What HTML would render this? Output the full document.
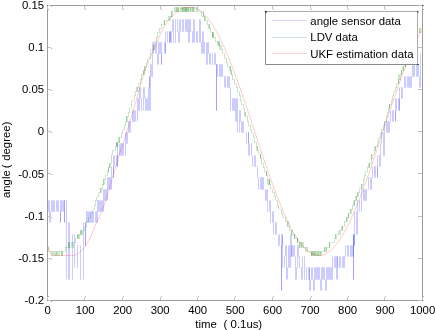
<!DOCTYPE html>
<html><head><meta charset="utf-8"><style>
html,body{margin:0;padding:0;background:#fff;width:435px;height:330px;overflow:hidden}
svg{position:absolute;left:0;top:0;will-change:transform}
text{font-family:"Liberation Sans",sans-serif;font-size:11.4px;fill:#000}
</style></head><body>
<svg width="435" height="330" viewBox="0 0 435 330">
<rect x="0" y="0" width="435" height="330" fill="#fff"/>
<g><path d="M47.0 211.5H49.0M49.0 200.5H50.0M49.0 222.5H50.0M50.0 211.5H52.0M51.0 200.5H53.0M52.0 211.5H54.0M53.0 200.5H55.0M55.0 211.5H56.0M56.0 200.5H58.0M57.0 211.5H59.0M58.0 200.5H61.0M60.0 222.5H61.0M60.0 211.5H62.0M61.0 200.5H63.0M63.0 211.5H64.0M64.0 200.5H65.0M64.0 222.5H65.0M64.0 200.5H67.0M67.0 279.5H68.0M68.0 222.5H70.0M70.0 279.5H73.0M72.0 234.5H75.0M75.0 267.5H78.0M77.0 245.5H81.0M80.0 279.5H83.0M83.0 222.5H86.0M85.0 245.5H86.0M85.0 222.5H86.0M86.0 211.5H88.0M87.0 222.5H89.0M88.0 211.5H90.0M89.0 222.5H91.0M90.0 211.5H92.0M91.0 222.5H93.0M93.0 211.5H94.0M94.0 222.5H95.0M95.0 211.5H97.0M96.0 222.5H98.0M97.0 200.5H99.0M98.0 211.5H100.0M99.0 200.5H101.0M100.0 211.5H102.0M102.0 200.5H103.0M103.0 211.5H104.0M103.0 189.5H105.0M104.0 200.5H106.0M105.0 189.5H107.0M106.0 200.5H107.0M107.0 177.5H109.0M108.0 189.5H110.0M109.0 177.5H111.0M110.0 189.5H112.0M112.0 166.5H113.0M113.0 177.5H114.0M114.0 155.5H115.0M115.0 166.5H116.0M116.0 155.5H118.0M117.0 166.5H118.0M118.0 143.5H119.0M119.0 155.5H121.0M120.0 143.5H122.0M121.0 155.5H123.0M122.0 143.5H124.0M123.0 155.5H125.0M125.0 132.5H127.0M126.0 143.5H128.0M127.0 132.5H129.0M128.0 121.5H130.0M129.0 132.5H131.0M130.0 121.5H133.0M132.0 110.5H134.0M133.0 121.5H135.0M135.0 110.5H136.0M136.0 121.5H137.0M137.0 98.5H139.0M138.0 110.5H140.0M139.0 87.5H141.0M141.0 98.5H142.0M142.0 110.5H143.0M143.0 87.5H145.0M144.0 98.5H146.0M145.0 110.5H147.0M147.0 98.5H148.0M148.0 110.5H149.0M148.0 87.5H150.0M149.0 76.5H150.0M150.0 110.5H151.0M150.0 76.5H151.0M150.0 64.5H152.0M151.0 76.5H153.0M153.0 42.5H154.0M154.0 53.5H155.0M155.0 42.5H157.0M156.0 53.5H158.0M157.0 64.5H158.0M158.0 42.5H160.0M159.0 53.5H161.0M160.0 42.5H162.0M161.0 64.5H162.0M162.0 53.5H164.0M164.0 42.5H166.0M165.0 53.5H166.0M166.0 31.5H168.0M168.0 42.5H170.0M169.0 31.5H170.0M169.0 42.5H170.0M170.0 31.5H171.0M170.0 42.5H172.0M171.0 31.5H173.0M172.0 19.5H174.0M174.0 42.5H176.0M175.0 19.5H178.0M177.0 31.5H179.0M178.0 42.5H180.0M180.0 19.5H181.0M181.0 31.5H183.0M182.0 19.5H184.0M183.0 31.5H185.0M185.0 19.5H187.0M186.0 31.5H188.0M187.0 19.5H189.0M188.0 31.5H189.0M189.0 42.5H190.0M189.0 31.5H190.0M189.0 19.5H191.0M190.0 31.5H193.0M192.0 42.5H194.0M193.0 19.5H195.0M195.0 42.5H197.0M196.0 31.5H198.0M198.0 42.5H200.0M199.0 19.5H200.0M200.0 42.5H202.0M202.0 53.5H203.0M202.0 42.5H203.0M202.0 31.5H204.0M203.0 53.5H205.0M204.0 42.5H206.0M206.0 53.5H207.0M207.0 64.5H208.0M207.0 53.5H208.0M207.0 42.5H209.0M208.0 53.5H210.0M210.0 64.5H211.0M211.0 53.5H213.0M213.0 64.5H215.0M214.0 53.5H216.0M215.0 64.5H217.0M216.0 110.5H217.0M216.0 64.5H218.0M217.0 76.5H220.0M219.0 64.5H221.0M220.0 76.5H222.0M221.0 64.5H223.0M222.0 76.5H225.0M225.0 87.5H226.0M226.0 76.5H228.0M227.0 87.5H229.0M228.0 76.5H230.0M229.0 87.5H231.0M230.0 110.5H233.0M232.0 98.5H234.0M233.0 110.5H235.0M234.0 98.5H236.0M235.0 121.5H236.0M236.0 110.5H237.0M237.0 98.5H238.0M238.0 132.5H239.0M239.0 110.5H241.0M240.0 121.5H242.0M241.0 132.5H243.0M243.0 121.5H244.0M244.0 132.5H247.0M246.0 143.5H248.0M248.0 132.5H249.0M249.0 155.5H250.0M250.0 143.5H252.0M252.0 155.5H253.0M253.0 166.5H254.0M254.0 155.5H256.0M255.0 166.5H257.0M257.0 177.5H259.0M259.0 189.5H260.0M260.0 177.5H262.0M261.0 189.5H263.0M262.0 177.5H264.0M264.0 189.5H266.0M265.0 200.5H267.0M267.0 189.5H268.0M268.0 211.5H270.0M269.0 200.5H271.0M271.0 222.5H273.0M272.0 211.5H274.0M274.0 234.5H275.0M275.0 222.5H277.0M277.0 234.5H278.0M278.0 245.5H280.0M279.0 234.5H281.0M281.0 245.5H282.0M281.0 290.5H282.0M282.0 245.5H283.0M282.0 234.5H283.0M283.0 267.5H284.0M284.0 256.5H286.0M286.0 245.5H287.0M286.0 279.5H287.0M287.0 267.5H289.0M288.0 245.5H290.0M289.0 267.5H291.0M290.0 256.5H291.0M291.0 234.5H292.0M291.0 256.5H292.0M291.0 245.5H293.0M292.0 256.5H294.0M294.0 245.5H295.0M295.0 256.5H296.0M295.0 279.5H296.0M296.0 267.5H298.0M297.0 245.5H299.0M298.0 256.5H300.0M299.0 267.5H302.0M301.0 279.5H303.0M303.0 256.5H305.0M304.0 279.5H307.0M306.0 267.5H308.0M308.0 279.5H310.0M309.0 267.5H310.0M310.0 290.5H311.0M310.0 279.5H312.0M312.0 267.5H313.0M313.0 279.5H314.0M313.0 290.5H314.0M314.0 267.5H316.0M315.0 279.5H317.0M316.0 267.5H318.0M317.0 279.5H319.0M318.0 267.5H320.0M319.0 279.5H321.0M321.0 290.5H322.0M321.0 267.5H323.0M322.0 279.5H324.0M323.0 267.5H325.0M324.0 279.5H326.0M325.0 290.5H326.0M326.0 267.5H328.0M327.0 279.5H329.0M328.0 267.5H330.0M329.0 279.5H331.0M330.0 267.5H332.0M331.0 279.5H333.0M333.0 256.5H335.0M334.0 267.5H336.0M336.0 256.5H337.0M337.0 279.5H338.0M337.0 256.5H338.0M337.0 267.5H340.0M339.0 256.5H341.0M340.0 267.5H343.0M342.0 256.5H344.0M343.0 267.5H345.0M344.0 256.5H346.0M346.0 245.5H348.0M348.0 256.5H349.0M349.0 245.5H350.0M350.0 256.5H352.0M351.0 245.5H353.0M352.0 256.5H353.0M353.0 234.5H354.0M353.0 279.5H354.0M354.0 234.5H355.0M354.0 245.5H355.0M355.0 211.5H357.0M357.0 234.5H358.0M358.0 200.5H360.0M359.0 211.5H362.0M361.0 189.5H364.0M363.0 200.5H365.0M364.0 189.5H366.0M365.0 200.5H367.0M366.0 189.5H368.0M368.0 177.5H371.0M370.0 189.5H372.0M372.0 177.5H373.0M373.0 166.5H375.0M374.0 177.5H376.0M376.0 166.5H377.0M377.0 177.5H378.0M378.0 155.5H380.0M379.0 166.5H381.0M381.0 143.5H382.0M382.0 132.5H383.0M383.0 155.5H385.0M384.0 143.5H385.0M385.0 121.5H386.0M386.0 132.5H388.0M387.0 121.5H389.0M388.0 132.5H390.0M389.0 121.5H391.0M391.0 110.5H393.0M392.0 121.5H394.0M394.0 110.5H395.0M395.0 121.5H396.0M396.0 98.5H397.0M397.0 110.5H398.0M398.0 98.5H400.0M399.0 110.5H400.0M400.0 87.5H402.0M402.0 98.5H403.0M403.0 87.5H405.0M404.0 76.5H406.0M405.0 87.5H407.0M407.0 76.5H409.0M408.0 87.5H410.0M409.0 76.5H411.0M410.0 87.5H412.0M411.0 76.5H413.0M412.0 64.5H414.0M414.0 76.5H415.0M415.0 64.5H417.0M416.0 76.5H418.0M417.0 64.5H419.0M418.0 76.5H420.0M420.0 87.5H421.0M421.0 53.5H422.0M422.0 87.5H423.0" fill="none" stroke="#0000ff" stroke-opacity="0.05" stroke-width="1"/><g stroke="#0000ff" stroke-opacity="0.2" stroke-width="1" stroke-linecap="butt"><line x1="48.5" y1="211.5" x2="48.5" y2="200.5"/><line x1="49.5" y1="200.5" x2="49.5" y2="222.5"/><line x1="50.5" y1="222.5" x2="50.5" y2="211.5"/><line x1="51.5" y1="211.5" x2="51.5" y2="200.5"/><line x1="52.5" y1="200.5" x2="52.5" y2="211.5"/><line x1="53.5" y1="211.5" x2="53.5" y2="200.5"/><line x1="54.5" y1="200.5" x2="54.5" y2="211.5"/><line x1="56.5" y1="211.5" x2="56.5" y2="200.5"/><line x1="57.5" y1="200.5" x2="57.5" y2="211.5"/><line x1="58.5" y1="211.5" x2="58.5" y2="200.5"/><line x1="60.5" y1="200.5" x2="60.5" y2="222.5"/><line x1="60.5" y1="222.5" x2="60.5" y2="211.5"/><line x1="61.5" y1="211.5" x2="61.5" y2="200.5"/><line x1="62.5" y1="200.5" x2="62.5" y2="211.5"/><line x1="63.5" y1="211.5" x2="63.5" y2="200.5"/><line x1="64.5" y1="200.5" x2="64.5" y2="222.5"/><line x1="64.5" y1="222.5" x2="64.5" y2="200.5"/><line x1="66.5" y1="200.5" x2="66.5" y2="279.5"/><line x1="68.5" y1="279.5" x2="68.5" y2="222.5"/><line x1="69.5" y1="222.5" x2="69.5" y2="279.5"/><line x1="72.5" y1="279.5" x2="72.5" y2="234.5"/><line x1="74.5" y1="234.5" x2="74.5" y2="267.5"/><line x1="77.5" y1="267.5" x2="77.5" y2="245.5"/><line x1="80.5" y1="245.5" x2="80.5" y2="279.5"/><line x1="83.5" y1="279.5" x2="83.5" y2="222.5"/><line x1="85.5" y1="222.5" x2="85.5" y2="245.5"/><line x1="85.5" y1="245.5" x2="85.5" y2="222.5"/><line x1="86.5" y1="222.5" x2="86.5" y2="211.5"/><line x1="87.5" y1="211.5" x2="87.5" y2="222.5"/><line x1="88.5" y1="222.5" x2="88.5" y2="211.5"/><line x1="89.5" y1="211.5" x2="89.5" y2="222.5"/><line x1="90.5" y1="222.5" x2="90.5" y2="211.5"/><line x1="91.5" y1="211.5" x2="91.5" y2="222.5"/><line x1="92.5" y1="222.5" x2="92.5" y2="211.5"/><line x1="93.5" y1="211.5" x2="93.5" y2="222.5"/><line x1="95.5" y1="222.5" x2="95.5" y2="211.5"/><line x1="96.5" y1="211.5" x2="96.5" y2="222.5"/><line x1="97.5" y1="222.5" x2="97.5" y2="200.5"/><line x1="98.5" y1="200.5" x2="98.5" y2="211.5"/><line x1="99.5" y1="211.5" x2="99.5" y2="200.5"/><line x1="100.5" y1="200.5" x2="100.5" y2="211.5"/><line x1="101.5" y1="211.5" x2="101.5" y2="200.5"/><line x1="102.5" y1="200.5" x2="102.5" y2="211.5"/><line x1="103.5" y1="211.5" x2="103.5" y2="189.5"/><line x1="104.5" y1="189.5" x2="104.5" y2="200.5"/><line x1="105.5" y1="200.5" x2="105.5" y2="189.5"/><line x1="106.5" y1="189.5" x2="106.5" y2="200.5"/><line x1="107.5" y1="200.5" x2="107.5" y2="177.5"/><line x1="108.5" y1="177.5" x2="108.5" y2="189.5"/><line x1="109.5" y1="189.5" x2="109.5" y2="177.5"/><line x1="110.5" y1="177.5" x2="110.5" y2="189.5"/><line x1="111.5" y1="189.5" x2="111.5" y2="166.5"/><line x1="113.5" y1="166.5" x2="113.5" y2="177.5"/><line x1="113.5" y1="177.5" x2="113.5" y2="155.5"/><line x1="114.5" y1="155.5" x2="114.5" y2="166.5"/><line x1="116.5" y1="166.5" x2="116.5" y2="155.5"/><line x1="117.5" y1="155.5" x2="117.5" y2="166.5"/><line x1="117.5" y1="166.5" x2="117.5" y2="143.5"/><line x1="119.5" y1="143.5" x2="119.5" y2="155.5"/><line x1="120.5" y1="155.5" x2="120.5" y2="143.5"/><line x1="121.5" y1="143.5" x2="121.5" y2="155.5"/><line x1="122.5" y1="155.5" x2="122.5" y2="143.5"/><line x1="123.5" y1="143.5" x2="123.5" y2="155.5"/><line x1="125.5" y1="155.5" x2="125.5" y2="132.5"/><line x1="126.5" y1="132.5" x2="126.5" y2="143.5"/><line x1="127.5" y1="143.5" x2="127.5" y2="132.5"/><line x1="128.5" y1="132.5" x2="128.5" y2="121.5"/><line x1="129.5" y1="121.5" x2="129.5" y2="132.5"/><line x1="130.5" y1="132.5" x2="130.5" y2="121.5"/><line x1="132.5" y1="121.5" x2="132.5" y2="110.5"/><line x1="133.5" y1="110.5" x2="133.5" y2="121.5"/><line x1="134.5" y1="121.5" x2="134.5" y2="110.5"/><line x1="135.5" y1="110.5" x2="135.5" y2="121.5"/><line x1="137.5" y1="121.5" x2="137.5" y2="98.5"/><line x1="138.5" y1="98.5" x2="138.5" y2="110.5"/><line x1="139.5" y1="110.5" x2="139.5" y2="87.5"/><line x1="140.5" y1="87.5" x2="140.5" y2="98.5"/><line x1="141.5" y1="98.5" x2="141.5" y2="110.5"/><line x1="143.5" y1="110.5" x2="143.5" y2="87.5"/><line x1="144.5" y1="87.5" x2="144.5" y2="98.5"/><line x1="145.5" y1="98.5" x2="145.5" y2="110.5"/><line x1="146.5" y1="110.5" x2="146.5" y2="98.5"/><line x1="147.5" y1="98.5" x2="147.5" y2="110.5"/><line x1="148.5" y1="110.5" x2="148.5" y2="87.5"/><line x1="149.5" y1="87.5" x2="149.5" y2="76.5"/><line x1="149.5" y1="76.5" x2="149.5" y2="110.5"/><line x1="150.5" y1="110.5" x2="150.5" y2="76.5"/><line x1="150.5" y1="76.5" x2="150.5" y2="64.5"/><line x1="151.5" y1="64.5" x2="151.5" y2="76.5"/><line x1="152.5" y1="76.5" x2="152.5" y2="42.5"/><line x1="153.5" y1="42.5" x2="153.5" y2="53.5"/><line x1="155.5" y1="53.5" x2="155.5" y2="42.5"/><line x1="156.5" y1="42.5" x2="156.5" y2="53.5"/><line x1="157.5" y1="53.5" x2="157.5" y2="64.5"/><line x1="158.5" y1="64.5" x2="158.5" y2="42.5"/><line x1="159.5" y1="42.5" x2="159.5" y2="53.5"/><line x1="160.5" y1="53.5" x2="160.5" y2="42.5"/><line x1="161.5" y1="42.5" x2="161.5" y2="64.5"/><line x1="161.5" y1="64.5" x2="161.5" y2="53.5"/><line x1="164.5" y1="53.5" x2="164.5" y2="42.5"/><line x1="165.5" y1="42.5" x2="165.5" y2="53.5"/><line x1="165.5" y1="53.5" x2="165.5" y2="31.5"/><line x1="167.5" y1="31.5" x2="167.5" y2="42.5"/><line x1="169.5" y1="42.5" x2="169.5" y2="31.5"/><line x1="169.5" y1="31.5" x2="169.5" y2="42.5"/><line x1="170.5" y1="42.5" x2="170.5" y2="31.5"/><line x1="170.5" y1="31.5" x2="170.5" y2="42.5"/><line x1="171.5" y1="42.5" x2="171.5" y2="31.5"/><line x1="172.5" y1="31.5" x2="172.5" y2="19.5"/><line x1="173.5" y1="19.5" x2="173.5" y2="42.5"/><line x1="175.5" y1="42.5" x2="175.5" y2="19.5"/><line x1="177.5" y1="19.5" x2="177.5" y2="31.5"/><line x1="178.5" y1="31.5" x2="178.5" y2="42.5"/><line x1="179.5" y1="42.5" x2="179.5" y2="19.5"/><line x1="180.5" y1="19.5" x2="180.5" y2="31.5"/><line x1="182.5" y1="31.5" x2="182.5" y2="19.5"/><line x1="183.5" y1="19.5" x2="183.5" y2="31.5"/><line x1="185.5" y1="31.5" x2="185.5" y2="19.5"/><line x1="186.5" y1="19.5" x2="186.5" y2="31.5"/><line x1="187.5" y1="31.5" x2="187.5" y2="19.5"/><line x1="188.5" y1="19.5" x2="188.5" y2="31.5"/><line x1="188.5" y1="31.5" x2="188.5" y2="42.5"/><line x1="189.5" y1="42.5" x2="189.5" y2="31.5"/><line x1="189.5" y1="31.5" x2="189.5" y2="19.5"/><line x1="190.5" y1="19.5" x2="190.5" y2="31.5"/><line x1="192.5" y1="31.5" x2="192.5" y2="42.5"/><line x1="193.5" y1="42.5" x2="193.5" y2="19.5"/><line x1="194.5" y1="19.5" x2="194.5" y2="42.5"/><line x1="196.5" y1="42.5" x2="196.5" y2="31.5"/><line x1="197.5" y1="31.5" x2="197.5" y2="42.5"/><line x1="199.5" y1="42.5" x2="199.5" y2="19.5"/><line x1="200.5" y1="19.5" x2="200.5" y2="42.5"/><line x1="201.5" y1="42.5" x2="201.5" y2="53.5"/><line x1="202.5" y1="53.5" x2="202.5" y2="42.5"/><line x1="202.5" y1="42.5" x2="202.5" y2="31.5"/><line x1="203.5" y1="31.5" x2="203.5" y2="53.5"/><line x1="204.5" y1="53.5" x2="204.5" y2="42.5"/><line x1="206.5" y1="42.5" x2="206.5" y2="53.5"/><line x1="206.5" y1="53.5" x2="206.5" y2="64.5"/><line x1="207.5" y1="64.5" x2="207.5" y2="53.5"/><line x1="207.5" y1="53.5" x2="207.5" y2="42.5"/><line x1="208.5" y1="42.5" x2="208.5" y2="53.5"/><line x1="209.5" y1="53.5" x2="209.5" y2="64.5"/><line x1="210.5" y1="64.5" x2="210.5" y2="53.5"/><line x1="212.5" y1="53.5" x2="212.5" y2="64.5"/><line x1="214.5" y1="64.5" x2="214.5" y2="53.5"/><line x1="215.5" y1="53.5" x2="215.5" y2="64.5"/><line x1="216.5" y1="64.5" x2="216.5" y2="110.5"/><line x1="216.5" y1="110.5" x2="216.5" y2="64.5"/><line x1="217.5" y1="64.5" x2="217.5" y2="76.5"/><line x1="219.5" y1="76.5" x2="219.5" y2="64.5"/><line x1="220.5" y1="64.5" x2="220.5" y2="76.5"/><line x1="221.5" y1="76.5" x2="221.5" y2="64.5"/><line x1="222.5" y1="64.5" x2="222.5" y2="76.5"/><line x1="224.5" y1="76.5" x2="224.5" y2="87.5"/><line x1="225.5" y1="87.5" x2="225.5" y2="76.5"/><line x1="227.5" y1="76.5" x2="227.5" y2="87.5"/><line x1="228.5" y1="87.5" x2="228.5" y2="76.5"/><line x1="229.5" y1="76.5" x2="229.5" y2="87.5"/><line x1="230.5" y1="87.5" x2="230.5" y2="110.5"/><line x1="232.5" y1="110.5" x2="232.5" y2="98.5"/><line x1="233.5" y1="98.5" x2="233.5" y2="110.5"/><line x1="234.5" y1="110.5" x2="234.5" y2="98.5"/><line x1="235.5" y1="98.5" x2="235.5" y2="121.5"/><line x1="236.5" y1="121.5" x2="236.5" y2="110.5"/><line x1="236.5" y1="110.5" x2="236.5" y2="98.5"/><line x1="237.5" y1="98.5" x2="237.5" y2="132.5"/><line x1="239.5" y1="132.5" x2="239.5" y2="110.5"/><line x1="240.5" y1="110.5" x2="240.5" y2="121.5"/><line x1="241.5" y1="121.5" x2="241.5" y2="132.5"/><line x1="242.5" y1="132.5" x2="242.5" y2="121.5"/><line x1="243.5" y1="121.5" x2="243.5" y2="132.5"/><line x1="246.5" y1="132.5" x2="246.5" y2="143.5"/><line x1="248.5" y1="143.5" x2="248.5" y2="132.5"/><line x1="248.5" y1="132.5" x2="248.5" y2="155.5"/><line x1="249.5" y1="155.5" x2="249.5" y2="143.5"/><line x1="251.5" y1="143.5" x2="251.5" y2="155.5"/><line x1="252.5" y1="155.5" x2="252.5" y2="166.5"/><line x1="254.5" y1="166.5" x2="254.5" y2="155.5"/><line x1="255.5" y1="155.5" x2="255.5" y2="166.5"/><line x1="257.5" y1="166.5" x2="257.5" y2="177.5"/><line x1="258.5" y1="177.5" x2="258.5" y2="189.5"/><line x1="260.5" y1="189.5" x2="260.5" y2="177.5"/><line x1="261.5" y1="177.5" x2="261.5" y2="189.5"/><line x1="262.5" y1="189.5" x2="262.5" y2="177.5"/><line x1="263.5" y1="177.5" x2="263.5" y2="189.5"/><line x1="265.5" y1="189.5" x2="265.5" y2="200.5"/><line x1="266.5" y1="200.5" x2="266.5" y2="189.5"/><line x1="267.5" y1="189.5" x2="267.5" y2="211.5"/><line x1="269.5" y1="211.5" x2="269.5" y2="200.5"/><line x1="270.5" y1="200.5" x2="270.5" y2="222.5"/><line x1="272.5" y1="222.5" x2="272.5" y2="211.5"/><line x1="273.5" y1="211.5" x2="273.5" y2="234.5"/><line x1="275.5" y1="234.5" x2="275.5" y2="222.5"/><line x1="276.5" y1="222.5" x2="276.5" y2="234.5"/><line x1="278.5" y1="234.5" x2="278.5" y2="245.5"/><line x1="279.5" y1="245.5" x2="279.5" y2="234.5"/><line x1="281.5" y1="234.5" x2="281.5" y2="245.5"/><line x1="281.5" y1="245.5" x2="281.5" y2="290.5"/><line x1="281.5" y1="290.5" x2="281.5" y2="245.5"/><line x1="282.5" y1="245.5" x2="282.5" y2="234.5"/><line x1="282.5" y1="234.5" x2="282.5" y2="267.5"/><line x1="284.5" y1="267.5" x2="284.5" y2="256.5"/><line x1="285.5" y1="256.5" x2="285.5" y2="245.5"/><line x1="286.5" y1="245.5" x2="286.5" y2="279.5"/><line x1="287.5" y1="279.5" x2="287.5" y2="267.5"/><line x1="288.5" y1="267.5" x2="288.5" y2="245.5"/><line x1="289.5" y1="245.5" x2="289.5" y2="267.5"/><line x1="290.5" y1="267.5" x2="290.5" y2="256.5"/><line x1="290.5" y1="256.5" x2="290.5" y2="234.5"/><line x1="291.5" y1="234.5" x2="291.5" y2="256.5"/><line x1="291.5" y1="256.5" x2="291.5" y2="245.5"/><line x1="292.5" y1="245.5" x2="292.5" y2="256.5"/><line x1="293.5" y1="256.5" x2="293.5" y2="245.5"/><line x1="294.5" y1="245.5" x2="294.5" y2="256.5"/><line x1="295.5" y1="256.5" x2="295.5" y2="279.5"/><line x1="296.5" y1="279.5" x2="296.5" y2="267.5"/><line x1="297.5" y1="267.5" x2="297.5" y2="245.5"/><line x1="298.5" y1="245.5" x2="298.5" y2="256.5"/><line x1="299.5" y1="256.5" x2="299.5" y2="267.5"/><line x1="301.5" y1="267.5" x2="301.5" y2="279.5"/><line x1="302.5" y1="279.5" x2="302.5" y2="256.5"/><line x1="304.5" y1="256.5" x2="304.5" y2="279.5"/><line x1="306.5" y1="279.5" x2="306.5" y2="267.5"/><line x1="308.5" y1="267.5" x2="308.5" y2="279.5"/><line x1="309.5" y1="279.5" x2="309.5" y2="267.5"/><line x1="309.5" y1="267.5" x2="309.5" y2="290.5"/><line x1="310.5" y1="290.5" x2="310.5" y2="279.5"/><line x1="311.5" y1="279.5" x2="311.5" y2="267.5"/><line x1="312.5" y1="267.5" x2="312.5" y2="279.5"/><line x1="313.5" y1="279.5" x2="313.5" y2="290.5"/><line x1="314.5" y1="290.5" x2="314.5" y2="267.5"/><line x1="315.5" y1="267.5" x2="315.5" y2="279.5"/><line x1="316.5" y1="279.5" x2="316.5" y2="267.5"/><line x1="317.5" y1="267.5" x2="317.5" y2="279.5"/><line x1="318.5" y1="279.5" x2="318.5" y2="267.5"/><line x1="319.5" y1="267.5" x2="319.5" y2="279.5"/><line x1="320.5" y1="279.5" x2="320.5" y2="290.5"/><line x1="321.5" y1="290.5" x2="321.5" y2="267.5"/><line x1="322.5" y1="267.5" x2="322.5" y2="279.5"/><line x1="323.5" y1="279.5" x2="323.5" y2="267.5"/><line x1="324.5" y1="267.5" x2="324.5" y2="279.5"/><line x1="325.5" y1="279.5" x2="325.5" y2="290.5"/><line x1="326.5" y1="290.5" x2="326.5" y2="267.5"/><line x1="327.5" y1="267.5" x2="327.5" y2="279.5"/><line x1="328.5" y1="279.5" x2="328.5" y2="267.5"/><line x1="329.5" y1="267.5" x2="329.5" y2="279.5"/><line x1="330.5" y1="279.5" x2="330.5" y2="267.5"/><line x1="331.5" y1="267.5" x2="331.5" y2="279.5"/><line x1="332.5" y1="279.5" x2="332.5" y2="256.5"/><line x1="334.5" y1="256.5" x2="334.5" y2="267.5"/><line x1="335.5" y1="267.5" x2="335.5" y2="256.5"/><line x1="336.5" y1="256.5" x2="336.5" y2="279.5"/><line x1="337.5" y1="279.5" x2="337.5" y2="256.5"/><line x1="337.5" y1="256.5" x2="337.5" y2="267.5"/><line x1="339.5" y1="267.5" x2="339.5" y2="256.5"/><line x1="340.5" y1="256.5" x2="340.5" y2="267.5"/><line x1="342.5" y1="267.5" x2="342.5" y2="256.5"/><line x1="343.5" y1="256.5" x2="343.5" y2="267.5"/><line x1="344.5" y1="267.5" x2="344.5" y2="256.5"/><line x1="345.5" y1="256.5" x2="345.5" y2="245.5"/><line x1="347.5" y1="245.5" x2="347.5" y2="256.5"/><line x1="348.5" y1="256.5" x2="348.5" y2="245.5"/><line x1="350.5" y1="245.5" x2="350.5" y2="256.5"/><line x1="351.5" y1="256.5" x2="351.5" y2="245.5"/><line x1="352.5" y1="245.5" x2="352.5" y2="256.5"/><line x1="353.5" y1="256.5" x2="353.5" y2="234.5"/><line x1="353.5" y1="234.5" x2="353.5" y2="279.5"/><line x1="353.5" y1="279.5" x2="353.5" y2="234.5"/><line x1="354.5" y1="234.5" x2="354.5" y2="245.5"/><line x1="354.5" y1="245.5" x2="354.5" y2="211.5"/><line x1="356.5" y1="211.5" x2="356.5" y2="234.5"/><line x1="357.5" y1="234.5" x2="357.5" y2="200.5"/><line x1="359.5" y1="200.5" x2="359.5" y2="211.5"/><line x1="361.5" y1="211.5" x2="361.5" y2="189.5"/><line x1="363.5" y1="189.5" x2="363.5" y2="200.5"/><line x1="364.5" y1="200.5" x2="364.5" y2="189.5"/><line x1="365.5" y1="189.5" x2="365.5" y2="200.5"/><line x1="366.5" y1="200.5" x2="366.5" y2="189.5"/><line x1="368.5" y1="189.5" x2="368.5" y2="177.5"/><line x1="370.5" y1="177.5" x2="370.5" y2="189.5"/><line x1="371.5" y1="189.5" x2="371.5" y2="177.5"/><line x1="372.5" y1="177.5" x2="372.5" y2="166.5"/><line x1="374.5" y1="166.5" x2="374.5" y2="177.5"/><line x1="375.5" y1="177.5" x2="375.5" y2="166.5"/><line x1="377.5" y1="166.5" x2="377.5" y2="177.5"/><line x1="377.5" y1="177.5" x2="377.5" y2="155.5"/><line x1="379.5" y1="155.5" x2="379.5" y2="166.5"/><line x1="380.5" y1="166.5" x2="380.5" y2="143.5"/><line x1="381.5" y1="143.5" x2="381.5" y2="132.5"/><line x1="383.5" y1="132.5" x2="383.5" y2="155.5"/><line x1="384.5" y1="155.5" x2="384.5" y2="143.5"/><line x1="384.5" y1="143.5" x2="384.5" y2="121.5"/><line x1="386.5" y1="121.5" x2="386.5" y2="132.5"/><line x1="387.5" y1="132.5" x2="387.5" y2="121.5"/><line x1="388.5" y1="121.5" x2="388.5" y2="132.5"/><line x1="389.5" y1="132.5" x2="389.5" y2="121.5"/><line x1="390.5" y1="121.5" x2="390.5" y2="110.5"/><line x1="392.5" y1="110.5" x2="392.5" y2="121.5"/><line x1="393.5" y1="121.5" x2="393.5" y2="110.5"/><line x1="395.5" y1="110.5" x2="395.5" y2="121.5"/><line x1="395.5" y1="121.5" x2="395.5" y2="98.5"/><line x1="396.5" y1="98.5" x2="396.5" y2="110.5"/><line x1="398.5" y1="110.5" x2="398.5" y2="98.5"/><line x1="399.5" y1="98.5" x2="399.5" y2="110.5"/><line x1="399.5" y1="110.5" x2="399.5" y2="87.5"/><line x1="401.5" y1="87.5" x2="401.5" y2="98.5"/><line x1="402.5" y1="98.5" x2="402.5" y2="87.5"/><line x1="404.5" y1="87.5" x2="404.5" y2="76.5"/><line x1="405.5" y1="76.5" x2="405.5" y2="87.5"/><line x1="407.5" y1="87.5" x2="407.5" y2="76.5"/><line x1="408.5" y1="76.5" x2="408.5" y2="87.5"/><line x1="409.5" y1="87.5" x2="409.5" y2="76.5"/><line x1="410.5" y1="76.5" x2="410.5" y2="87.5"/><line x1="411.5" y1="87.5" x2="411.5" y2="76.5"/><line x1="412.5" y1="76.5" x2="412.5" y2="64.5"/><line x1="413.5" y1="64.5" x2="413.5" y2="76.5"/><line x1="414.5" y1="76.5" x2="414.5" y2="64.5"/><line x1="416.5" y1="64.5" x2="416.5" y2="76.5"/><line x1="417.5" y1="76.5" x2="417.5" y2="64.5"/><line x1="418.5" y1="64.5" x2="418.5" y2="76.5"/><line x1="419.5" y1="76.5" x2="419.5" y2="87.5"/><line x1="420.5" y1="87.5" x2="420.5" y2="53.5"/><line x1="422.5" y1="53.5" x2="422.5" y2="87.5"/></g>
<path d="M47.0 247.5H49.0M48.0 251.5H52.0M51.0 255.5H53.0M52.0 251.5H54.0M54.0 255.5H55.0M54.0 251.5H56.0M55.0 255.5H56.0M56.0 251.5H57.0M57.0 255.5H58.0M57.0 251.5H59.0M58.0 255.5H59.0M59.0 251.5H62.0M61.0 255.5H62.0M61.0 251.5H63.0M62.0 255.5H63.0M63.0 251.5H65.0M65.0 247.5H69.0M68.0 242.5H69.0M69.0 247.5H70.0M69.0 242.5H70.0M69.0 247.5H71.0M71.0 242.5H73.0M73.0 247.5H74.0M73.0 242.5H76.0M76.0 238.5H77.0M77.0 234.5H78.0M77.0 238.5H79.0M78.0 234.5H79.0M79.0 238.5H80.0M79.0 234.5H80.0M80.0 230.5H81.0M80.0 234.5H82.0M81.0 230.5H82.0M82.0 234.5H83.0M82.0 230.5H85.0M85.0 226.5H87.0M86.0 221.5H89.0M88.0 217.5H91.0M91.0 213.5H93.0M93.0 209.5H95.0M94.0 205.5H96.0M95.0 200.5H97.0M97.0 196.5H99.0M99.0 192.5H101.0M100.0 188.5H101.0M100.0 192.5H101.0M101.0 188.5H103.0M102.0 184.5H104.0M103.0 179.5H104.0M103.0 184.5H104.0M104.0 179.5H106.0M105.0 175.5H107.0M107.0 171.5H109.0M108.0 167.5H109.0M108.0 171.5H109.0M109.0 167.5H110.0M109.0 163.5H110.0M109.0 167.5H110.0M110.0 163.5H112.0M111.0 158.5H112.0M112.0 154.5H113.0M112.0 150.5H116.0M115.0 146.5H116.0M116.0 142.5H117.0M116.0 146.5H117.0M117.0 142.5H118.0M117.0 146.5H118.0M117.0 142.5H119.0M118.0 137.5H119.0M119.0 142.5H120.0M119.0 137.5H122.0M121.0 133.5H123.0M123.0 129.5H125.0M124.0 125.5H126.0M125.0 121.5H127.0M126.0 116.5H127.0M127.0 121.5H128.0M127.0 116.5H129.0M128.0 112.5H130.0M129.0 108.5H131.0M131.0 104.5H132.0M132.0 100.5H134.0M134.0 95.5H136.0M135.0 91.5H137.0M136.0 87.5H138.0M137.0 91.5H138.0M138.0 87.5H139.0M138.0 83.5H141.0M140.0 79.5H142.0M141.0 74.5H143.0M143.0 70.5H144.0M144.0 74.5H145.0M144.0 70.5H145.0M144.0 66.5H145.0M145.0 70.5H146.0M145.0 66.5H147.0M147.0 62.5H148.0M148.0 58.5H151.0M150.0 53.5H151.0M151.0 49.5H154.0M153.0 45.5H154.0M153.0 49.5H155.0M154.0 45.5H155.0M154.0 41.5H157.0M156.0 37.5H158.0M157.0 32.5H160.0M159.0 28.5H161.0M161.0 24.5H164.0M164.0 20.5H165.0M164.0 24.5H165.0M165.0 20.5H169.0M168.0 16.5H170.0M169.0 20.5H170.0M170.0 16.5H172.0M171.0 11.5H172.0M171.0 16.5H173.0M172.0 11.5H175.0M175.0 7.5H176.0M175.0 11.5H177.0M176.0 7.5H177.0M177.0 11.5H178.0M177.0 7.5H178.0M177.0 11.5H179.0M178.0 7.5H179.0M178.0 11.5H181.0M180.0 7.5H182.0M181.0 11.5H182.0M182.0 7.5H183.0M182.0 11.5H183.0M183.0 7.5H184.0M183.0 11.5H184.0M184.0 7.5H185.0M184.0 11.5H185.0M184.0 7.5H185.0M185.0 11.5H186.0M185.0 7.5H186.0M186.0 11.5H187.0M186.0 7.5H187.0M186.0 11.5H187.0M187.0 7.5H188.0M187.0 11.5H188.0M187.0 7.5H188.0M188.0 11.5H189.0M189.0 7.5H190.0M190.0 11.5H191.0M190.0 7.5H191.0M190.0 11.5H191.0M191.0 7.5H193.0M192.0 11.5H193.0M192.0 7.5H194.0M193.0 11.5H194.0M193.0 7.5H195.0M195.0 11.5H197.0M196.0 7.5H197.0M197.0 11.5H202.0M202.0 16.5H203.0M203.0 11.5H204.0M203.0 16.5H205.0M204.0 20.5H205.0M205.0 16.5H206.0M205.0 20.5H208.0M207.0 24.5H209.0M208.0 28.5H209.0M209.0 24.5H210.0M209.0 28.5H211.0M211.0 32.5H212.0M212.0 37.5H213.0M212.0 32.5H213.0M213.0 37.5H214.0M213.0 32.5H214.0M214.0 37.5H216.0M215.0 41.5H218.0M217.0 45.5H218.0M218.0 41.5H219.0M219.0 45.5H220.0M219.0 41.5H220.0M219.0 45.5H220.0M220.0 49.5H221.0M220.0 45.5H222.0M221.0 49.5H223.0M223.0 53.5H225.0M225.0 58.5H227.0M226.0 62.5H228.0M227.0 66.5H230.0M229.0 70.5H230.0M230.0 66.5H231.0M230.0 70.5H231.0M231.0 74.5H232.0M231.0 70.5H232.0M231.0 74.5H233.0M232.0 79.5H235.0M234.0 83.5H236.0M236.0 87.5H238.0M237.0 91.5H239.0M239.0 95.5H241.0M240.0 100.5H242.0M241.0 104.5H244.0M243.0 108.5H245.0M244.0 112.5H245.0M244.0 116.5H245.0M245.0 112.5H246.0M246.0 116.5H248.0M247.0 121.5H249.0M248.0 125.5H251.0M250.0 129.5H252.0M252.0 133.5H254.0M253.0 137.5H255.0M254.0 142.5H257.0M256.0 146.5H257.0M256.0 150.5H257.0M257.0 146.5H258.0M257.0 150.5H259.0M259.0 154.5H260.0M260.0 158.5H261.0M260.0 154.5H261.0M261.0 158.5H262.0M261.0 163.5H264.0M263.0 167.5H265.0M264.0 171.5H266.0M266.0 175.5H267.0M266.0 171.5H267.0M267.0 175.5H268.0M267.0 179.5H268.0M268.0 184.5H269.0M268.0 179.5H269.0M269.0 184.5H270.0M269.0 179.5H270.0M270.0 184.5H271.0M270.0 188.5H272.0M272.0 192.5H275.0M274.0 196.5H276.0M276.0 200.5H278.0M277.0 205.5H279.0M279.0 209.5H281.0M281.0 213.5H283.0M283.0 217.5H286.0M285.0 221.5H287.0M287.0 226.5H288.0M288.0 221.5H289.0M288.0 226.5H290.0M289.0 230.5H292.0M291.0 234.5H292.0M292.0 230.5H293.0M292.0 234.5H295.0M294.0 238.5H295.0M294.0 234.5H295.0M295.0 238.5H298.0M297.0 242.5H298.0M297.0 238.5H298.0M298.0 242.5H300.0M299.0 247.5H300.0M300.0 242.5H301.0M301.0 247.5H302.0M301.0 242.5H302.0M301.0 247.5H302.0M302.0 242.5H304.0M303.0 247.5H306.0M306.0 251.5H307.0M306.0 247.5H308.0M307.0 251.5H311.0M311.0 255.5H312.0M311.0 251.5H312.0M312.0 255.5H313.0M312.0 251.5H313.0M313.0 255.5H314.0M313.0 251.5H314.0M313.0 255.5H315.0M314.0 251.5H315.0M315.0 255.5H316.0M315.0 251.5H316.0M315.0 255.5H317.0M316.0 251.5H317.0M317.0 255.5H318.0M318.0 251.5H319.0M318.0 255.5H319.0M319.0 251.5H320.0M319.0 255.5H320.0M320.0 251.5H321.0M321.0 255.5H322.0M321.0 251.5H325.0M324.0 247.5H325.0M325.0 251.5H326.0M325.0 247.5H327.0M326.0 251.5H327.0M327.0 247.5H329.0M329.0 242.5H330.0M329.0 247.5H330.0M330.0 242.5H335.0M334.0 238.5H336.0M335.0 234.5H336.0M336.0 238.5H337.0M337.0 234.5H339.0M339.0 230.5H340.0M340.0 234.5H341.0M340.0 230.5H342.0M342.0 226.5H343.0M342.0 230.5H343.0M342.0 226.5H345.0M344.0 221.5H347.0M346.0 217.5H347.0M346.0 221.5H347.0M347.0 217.5H349.0M348.0 213.5H349.0M348.0 217.5H349.0M349.0 213.5H350.0M350.0 209.5H351.0M351.0 213.5H352.0M351.0 209.5H353.0M352.0 205.5H354.0M354.0 200.5H355.0M354.0 205.5H355.0M355.0 200.5H356.0M355.0 196.5H356.0M356.0 200.5H357.0M356.0 196.5H358.0M357.0 192.5H358.0M358.0 196.5H359.0M358.0 192.5H360.0M360.0 188.5H362.0M361.0 184.5H362.0M361.0 188.5H362.0M362.0 184.5H364.0M363.0 179.5H365.0M364.0 175.5H366.0M366.0 171.5H368.0M367.0 167.5H369.0M369.0 163.5H370.0M369.0 167.5H370.0M369.0 163.5H371.0M371.0 158.5H372.0M371.0 154.5H372.0M372.0 158.5H373.0M373.0 154.5H374.0M374.0 150.5H375.0M375.0 146.5H376.0M375.0 150.5H376.0M376.0 146.5H378.0M378.0 142.5H379.0M379.0 137.5H381.0M380.0 133.5H382.0M381.0 129.5H384.0M383.0 125.5H385.0M384.0 121.5H387.0M386.0 116.5H388.0M387.0 112.5H389.0M388.0 108.5H389.0M389.0 104.5H390.0M389.0 108.5H390.0M390.0 104.5H392.0M391.0 100.5H393.0M393.0 95.5H394.0M394.0 91.5H395.0M395.0 87.5H397.0M397.0 83.5H398.0M398.0 79.5H399.0M398.0 83.5H399.0M399.0 74.5H400.0M399.0 79.5H401.0M400.0 74.5H401.0M401.0 70.5H402.0M401.0 74.5H402.0M402.0 70.5H403.0M403.0 66.5H404.0M403.0 70.5H404.0M403.0 66.5H406.0M405.0 62.5H406.0M405.0 66.5H406.0M406.0 62.5H407.0M406.0 58.5H407.0M406.0 62.5H407.0M407.0 58.5H408.0M407.0 53.5H408.0M408.0 58.5H409.0M408.0 53.5H410.0M409.0 49.5H412.0M411.0 45.5H413.0M413.0 41.5H416.0M415.0 37.5H416.0M416.0 32.5H417.0M416.0 37.5H418.0M417.0 32.5H420.0M419.0 28.5H420.0M420.0 32.5H421.0M420.0 28.5H423.0" fill="none" stroke="#008000" stroke-opacity="0.15" stroke-width="1"/><g stroke="#008000" stroke-opacity="0.2" stroke-width="1" stroke-linecap="butt"><line x1="48.5" y1="247.5" x2="48.5" y2="251.5"/><line x1="51.5" y1="251.5" x2="51.5" y2="255.5"/><line x1="52.5" y1="255.5" x2="52.5" y2="251.5"/><line x1="53.5" y1="251.5" x2="53.5" y2="255.5"/><line x1="54.5" y1="255.5" x2="54.5" y2="251.5"/><line x1="55.5" y1="251.5" x2="55.5" y2="255.5"/><line x1="56.5" y1="255.5" x2="56.5" y2="251.5"/><line x1="56.5" y1="251.5" x2="56.5" y2="255.5"/><line x1="57.5" y1="255.5" x2="57.5" y2="251.5"/><line x1="58.5" y1="251.5" x2="58.5" y2="255.5"/><line x1="59.5" y1="255.5" x2="59.5" y2="251.5"/><line x1="61.5" y1="251.5" x2="61.5" y2="255.5"/><line x1="61.5" y1="255.5" x2="61.5" y2="251.5"/><line x1="62.5" y1="251.5" x2="62.5" y2="255.5"/><line x1="62.5" y1="255.5" x2="62.5" y2="251.5"/><line x1="65.5" y1="251.5" x2="65.5" y2="247.5"/><line x1="68.5" y1="247.5" x2="68.5" y2="242.5"/><line x1="68.5" y1="242.5" x2="68.5" y2="247.5"/><line x1="69.5" y1="247.5" x2="69.5" y2="242.5"/><line x1="69.5" y1="242.5" x2="69.5" y2="247.5"/><line x1="71.5" y1="247.5" x2="71.5" y2="242.5"/><line x1="72.5" y1="242.5" x2="72.5" y2="247.5"/><line x1="73.5" y1="247.5" x2="73.5" y2="242.5"/><line x1="75.5" y1="242.5" x2="75.5" y2="238.5"/><line x1="77.5" y1="238.5" x2="77.5" y2="234.5"/><line x1="77.5" y1="234.5" x2="77.5" y2="238.5"/><line x1="78.5" y1="238.5" x2="78.5" y2="234.5"/><line x1="78.5" y1="234.5" x2="78.5" y2="238.5"/><line x1="79.5" y1="238.5" x2="79.5" y2="234.5"/><line x1="80.5" y1="234.5" x2="80.5" y2="230.5"/><line x1="80.5" y1="230.5" x2="80.5" y2="234.5"/><line x1="81.5" y1="234.5" x2="81.5" y2="230.5"/><line x1="81.5" y1="230.5" x2="81.5" y2="234.5"/><line x1="82.5" y1="234.5" x2="82.5" y2="230.5"/><line x1="84.5" y1="230.5" x2="84.5" y2="226.5"/><line x1="86.5" y1="226.5" x2="86.5" y2="221.5"/><line x1="88.5" y1="221.5" x2="88.5" y2="217.5"/><line x1="90.5" y1="217.5" x2="90.5" y2="213.5"/><line x1="92.5" y1="213.5" x2="92.5" y2="209.5"/><line x1="94.5" y1="209.5" x2="94.5" y2="205.5"/><line x1="95.5" y1="205.5" x2="95.5" y2="200.5"/><line x1="96.5" y1="200.5" x2="96.5" y2="196.5"/><line x1="98.5" y1="196.5" x2="98.5" y2="192.5"/><line x1="100.5" y1="192.5" x2="100.5" y2="188.5"/><line x1="100.5" y1="188.5" x2="100.5" y2="192.5"/><line x1="101.5" y1="192.5" x2="101.5" y2="188.5"/><line x1="102.5" y1="188.5" x2="102.5" y2="184.5"/><line x1="103.5" y1="184.5" x2="103.5" y2="179.5"/><line x1="103.5" y1="179.5" x2="103.5" y2="184.5"/><line x1="104.5" y1="184.5" x2="104.5" y2="179.5"/><line x1="105.5" y1="179.5" x2="105.5" y2="175.5"/><line x1="107.5" y1="175.5" x2="107.5" y2="171.5"/><line x1="108.5" y1="171.5" x2="108.5" y2="167.5"/><line x1="108.5" y1="167.5" x2="108.5" y2="171.5"/><line x1="108.5" y1="171.5" x2="108.5" y2="167.5"/><line x1="109.5" y1="167.5" x2="109.5" y2="163.5"/><line x1="109.5" y1="163.5" x2="109.5" y2="167.5"/><line x1="110.5" y1="167.5" x2="110.5" y2="163.5"/><line x1="111.5" y1="163.5" x2="111.5" y2="158.5"/><line x1="111.5" y1="158.5" x2="111.5" y2="154.5"/><line x1="112.5" y1="154.5" x2="112.5" y2="150.5"/><line x1="115.5" y1="150.5" x2="115.5" y2="146.5"/><line x1="116.5" y1="146.5" x2="116.5" y2="142.5"/><line x1="116.5" y1="142.5" x2="116.5" y2="146.5"/><line x1="116.5" y1="146.5" x2="116.5" y2="142.5"/><line x1="117.5" y1="142.5" x2="117.5" y2="146.5"/><line x1="117.5" y1="146.5" x2="117.5" y2="142.5"/><line x1="118.5" y1="142.5" x2="118.5" y2="137.5"/><line x1="119.5" y1="137.5" x2="119.5" y2="142.5"/><line x1="119.5" y1="142.5" x2="119.5" y2="137.5"/><line x1="121.5" y1="137.5" x2="121.5" y2="133.5"/><line x1="122.5" y1="133.5" x2="122.5" y2="129.5"/><line x1="124.5" y1="129.5" x2="124.5" y2="125.5"/><line x1="125.5" y1="125.5" x2="125.5" y2="121.5"/><line x1="126.5" y1="121.5" x2="126.5" y2="116.5"/><line x1="126.5" y1="116.5" x2="126.5" y2="121.5"/><line x1="127.5" y1="121.5" x2="127.5" y2="116.5"/><line x1="128.5" y1="116.5" x2="128.5" y2="112.5"/><line x1="129.5" y1="112.5" x2="129.5" y2="108.5"/><line x1="131.5" y1="108.5" x2="131.5" y2="104.5"/><line x1="131.5" y1="104.5" x2="131.5" y2="100.5"/><line x1="134.5" y1="100.5" x2="134.5" y2="95.5"/><line x1="135.5" y1="95.5" x2="135.5" y2="91.5"/><line x1="136.5" y1="91.5" x2="136.5" y2="87.5"/><line x1="137.5" y1="87.5" x2="137.5" y2="91.5"/><line x1="137.5" y1="91.5" x2="137.5" y2="87.5"/><line x1="138.5" y1="87.5" x2="138.5" y2="83.5"/><line x1="140.5" y1="83.5" x2="140.5" y2="79.5"/><line x1="141.5" y1="79.5" x2="141.5" y2="74.5"/><line x1="143.5" y1="74.5" x2="143.5" y2="70.5"/><line x1="143.5" y1="70.5" x2="143.5" y2="74.5"/><line x1="144.5" y1="74.5" x2="144.5" y2="70.5"/><line x1="144.5" y1="70.5" x2="144.5" y2="66.5"/><line x1="144.5" y1="66.5" x2="144.5" y2="70.5"/><line x1="145.5" y1="70.5" x2="145.5" y2="66.5"/><line x1="146.5" y1="66.5" x2="146.5" y2="62.5"/><line x1="147.5" y1="62.5" x2="147.5" y2="58.5"/><line x1="150.5" y1="58.5" x2="150.5" y2="53.5"/><line x1="150.5" y1="53.5" x2="150.5" y2="49.5"/><line x1="153.5" y1="49.5" x2="153.5" y2="45.5"/><line x1="153.5" y1="45.5" x2="153.5" y2="49.5"/><line x1="154.5" y1="49.5" x2="154.5" y2="45.5"/><line x1="154.5" y1="45.5" x2="154.5" y2="41.5"/><line x1="156.5" y1="41.5" x2="156.5" y2="37.5"/><line x1="157.5" y1="37.5" x2="157.5" y2="32.5"/><line x1="159.5" y1="32.5" x2="159.5" y2="28.5"/><line x1="161.5" y1="28.5" x2="161.5" y2="24.5"/><line x1="164.5" y1="24.5" x2="164.5" y2="20.5"/><line x1="164.5" y1="20.5" x2="164.5" y2="24.5"/><line x1="164.5" y1="24.5" x2="164.5" y2="20.5"/><line x1="168.5" y1="20.5" x2="168.5" y2="16.5"/><line x1="169.5" y1="16.5" x2="169.5" y2="20.5"/><line x1="170.5" y1="20.5" x2="170.5" y2="16.5"/><line x1="171.5" y1="16.5" x2="171.5" y2="11.5"/><line x1="171.5" y1="11.5" x2="171.5" y2="16.5"/><line x1="172.5" y1="16.5" x2="172.5" y2="11.5"/><line x1="174.5" y1="11.5" x2="174.5" y2="7.5"/><line x1="175.5" y1="7.5" x2="175.5" y2="11.5"/><line x1="176.5" y1="11.5" x2="176.5" y2="7.5"/><line x1="176.5" y1="7.5" x2="176.5" y2="11.5"/><line x1="177.5" y1="11.5" x2="177.5" y2="7.5"/><line x1="177.5" y1="7.5" x2="177.5" y2="11.5"/><line x1="178.5" y1="11.5" x2="178.5" y2="7.5"/><line x1="178.5" y1="7.5" x2="178.5" y2="11.5"/><line x1="180.5" y1="11.5" x2="180.5" y2="7.5"/><line x1="181.5" y1="7.5" x2="181.5" y2="11.5"/><line x1="182.5" y1="11.5" x2="182.5" y2="7.5"/><line x1="182.5" y1="7.5" x2="182.5" y2="11.5"/><line x1="182.5" y1="11.5" x2="182.5" y2="7.5"/><line x1="183.5" y1="7.5" x2="183.5" y2="11.5"/><line x1="183.5" y1="11.5" x2="183.5" y2="7.5"/><line x1="184.5" y1="7.5" x2="184.5" y2="11.5"/><line x1="184.5" y1="11.5" x2="184.5" y2="7.5"/><line x1="185.5" y1="7.5" x2="185.5" y2="11.5"/><line x1="185.5" y1="11.5" x2="185.5" y2="7.5"/><line x1="185.5" y1="7.5" x2="185.5" y2="11.5"/><line x1="186.5" y1="11.5" x2="186.5" y2="7.5"/><line x1="186.5" y1="7.5" x2="186.5" y2="11.5"/><line x1="186.5" y1="11.5" x2="186.5" y2="7.5"/><line x1="187.5" y1="7.5" x2="187.5" y2="11.5"/><line x1="187.5" y1="11.5" x2="187.5" y2="7.5"/><line x1="188.5" y1="7.5" x2="188.5" y2="11.5"/><line x1="188.5" y1="11.5" x2="188.5" y2="7.5"/><line x1="189.5" y1="7.5" x2="189.5" y2="11.5"/><line x1="190.5" y1="11.5" x2="190.5" y2="7.5"/><line x1="190.5" y1="7.5" x2="190.5" y2="11.5"/><line x1="191.5" y1="11.5" x2="191.5" y2="7.5"/><line x1="192.5" y1="7.5" x2="192.5" y2="11.5"/><line x1="192.5" y1="11.5" x2="192.5" y2="7.5"/><line x1="193.5" y1="7.5" x2="193.5" y2="11.5"/><line x1="193.5" y1="11.5" x2="193.5" y2="7.5"/><line x1="194.5" y1="7.5" x2="194.5" y2="11.5"/><line x1="196.5" y1="11.5" x2="196.5" y2="7.5"/><line x1="197.5" y1="7.5" x2="197.5" y2="11.5"/><line x1="201.5" y1="11.5" x2="201.5" y2="16.5"/><line x1="203.5" y1="16.5" x2="203.5" y2="11.5"/><line x1="203.5" y1="11.5" x2="203.5" y2="16.5"/><line x1="204.5" y1="16.5" x2="204.5" y2="20.5"/><line x1="204.5" y1="20.5" x2="204.5" y2="16.5"/><line x1="205.5" y1="16.5" x2="205.5" y2="20.5"/><line x1="207.5" y1="20.5" x2="207.5" y2="24.5"/><line x1="208.5" y1="24.5" x2="208.5" y2="28.5"/><line x1="209.5" y1="28.5" x2="209.5" y2="24.5"/><line x1="209.5" y1="24.5" x2="209.5" y2="28.5"/><line x1="210.5" y1="28.5" x2="210.5" y2="32.5"/><line x1="212.5" y1="32.5" x2="212.5" y2="37.5"/><line x1="212.5" y1="37.5" x2="212.5" y2="32.5"/><line x1="212.5" y1="32.5" x2="212.5" y2="37.5"/><line x1="213.5" y1="37.5" x2="213.5" y2="32.5"/><line x1="213.5" y1="32.5" x2="213.5" y2="37.5"/><line x1="215.5" y1="37.5" x2="215.5" y2="41.5"/><line x1="217.5" y1="41.5" x2="217.5" y2="45.5"/><line x1="218.5" y1="45.5" x2="218.5" y2="41.5"/><line x1="218.5" y1="41.5" x2="218.5" y2="45.5"/><line x1="219.5" y1="45.5" x2="219.5" y2="41.5"/><line x1="219.5" y1="41.5" x2="219.5" y2="45.5"/><line x1="219.5" y1="45.5" x2="219.5" y2="49.5"/><line x1="220.5" y1="49.5" x2="220.5" y2="45.5"/><line x1="221.5" y1="45.5" x2="221.5" y2="49.5"/><line x1="222.5" y1="49.5" x2="222.5" y2="53.5"/><line x1="224.5" y1="53.5" x2="224.5" y2="58.5"/><line x1="226.5" y1="58.5" x2="226.5" y2="62.5"/><line x1="227.5" y1="62.5" x2="227.5" y2="66.5"/><line x1="229.5" y1="66.5" x2="229.5" y2="70.5"/><line x1="230.5" y1="70.5" x2="230.5" y2="66.5"/><line x1="230.5" y1="66.5" x2="230.5" y2="70.5"/><line x1="230.5" y1="70.5" x2="230.5" y2="74.5"/><line x1="231.5" y1="74.5" x2="231.5" y2="70.5"/><line x1="231.5" y1="70.5" x2="231.5" y2="74.5"/><line x1="232.5" y1="74.5" x2="232.5" y2="79.5"/><line x1="234.5" y1="79.5" x2="234.5" y2="83.5"/><line x1="236.5" y1="83.5" x2="236.5" y2="87.5"/><line x1="237.5" y1="87.5" x2="237.5" y2="91.5"/><line x1="239.5" y1="91.5" x2="239.5" y2="95.5"/><line x1="240.5" y1="95.5" x2="240.5" y2="100.5"/><line x1="241.5" y1="100.5" x2="241.5" y2="104.5"/><line x1="243.5" y1="104.5" x2="243.5" y2="108.5"/><line x1="244.5" y1="108.5" x2="244.5" y2="112.5"/><line x1="244.5" y1="112.5" x2="244.5" y2="116.5"/><line x1="245.5" y1="116.5" x2="245.5" y2="112.5"/><line x1="245.5" y1="112.5" x2="245.5" y2="116.5"/><line x1="247.5" y1="116.5" x2="247.5" y2="121.5"/><line x1="248.5" y1="121.5" x2="248.5" y2="125.5"/><line x1="250.5" y1="125.5" x2="250.5" y2="129.5"/><line x1="251.5" y1="129.5" x2="251.5" y2="133.5"/><line x1="253.5" y1="133.5" x2="253.5" y2="137.5"/><line x1="254.5" y1="137.5" x2="254.5" y2="142.5"/><line x1="256.5" y1="142.5" x2="256.5" y2="146.5"/><line x1="256.5" y1="146.5" x2="256.5" y2="150.5"/><line x1="257.5" y1="150.5" x2="257.5" y2="146.5"/><line x1="257.5" y1="146.5" x2="257.5" y2="150.5"/><line x1="258.5" y1="150.5" x2="258.5" y2="154.5"/><line x1="260.5" y1="154.5" x2="260.5" y2="158.5"/><line x1="260.5" y1="158.5" x2="260.5" y2="154.5"/><line x1="260.5" y1="154.5" x2="260.5" y2="158.5"/><line x1="261.5" y1="158.5" x2="261.5" y2="163.5"/><line x1="263.5" y1="163.5" x2="263.5" y2="167.5"/><line x1="264.5" y1="167.5" x2="264.5" y2="171.5"/><line x1="266.5" y1="171.5" x2="266.5" y2="175.5"/><line x1="266.5" y1="175.5" x2="266.5" y2="171.5"/><line x1="266.5" y1="171.5" x2="266.5" y2="175.5"/><line x1="267.5" y1="175.5" x2="267.5" y2="179.5"/><line x1="267.5" y1="179.5" x2="267.5" y2="184.5"/><line x1="268.5" y1="184.5" x2="268.5" y2="179.5"/><line x1="269.5" y1="179.5" x2="269.5" y2="184.5"/><line x1="269.5" y1="184.5" x2="269.5" y2="179.5"/><line x1="269.5" y1="179.5" x2="269.5" y2="184.5"/><line x1="270.5" y1="184.5" x2="270.5" y2="188.5"/><line x1="272.5" y1="188.5" x2="272.5" y2="192.5"/><line x1="274.5" y1="192.5" x2="274.5" y2="196.5"/><line x1="275.5" y1="196.5" x2="275.5" y2="200.5"/><line x1="277.5" y1="200.5" x2="277.5" y2="205.5"/><line x1="278.5" y1="205.5" x2="278.5" y2="209.5"/><line x1="281.5" y1="209.5" x2="281.5" y2="213.5"/><line x1="282.5" y1="213.5" x2="282.5" y2="217.5"/><line x1="285.5" y1="217.5" x2="285.5" y2="221.5"/><line x1="287.5" y1="221.5" x2="287.5" y2="226.5"/><line x1="287.5" y1="226.5" x2="287.5" y2="221.5"/><line x1="288.5" y1="221.5" x2="288.5" y2="226.5"/><line x1="289.5" y1="226.5" x2="289.5" y2="230.5"/><line x1="291.5" y1="230.5" x2="291.5" y2="234.5"/><line x1="291.5" y1="234.5" x2="291.5" y2="230.5"/><line x1="292.5" y1="230.5" x2="292.5" y2="234.5"/><line x1="294.5" y1="234.5" x2="294.5" y2="238.5"/><line x1="294.5" y1="238.5" x2="294.5" y2="234.5"/><line x1="294.5" y1="234.5" x2="294.5" y2="238.5"/><line x1="297.5" y1="238.5" x2="297.5" y2="242.5"/><line x1="297.5" y1="242.5" x2="297.5" y2="238.5"/><line x1="297.5" y1="238.5" x2="297.5" y2="242.5"/><line x1="299.5" y1="242.5" x2="299.5" y2="247.5"/><line x1="299.5" y1="247.5" x2="299.5" y2="242.5"/><line x1="300.5" y1="242.5" x2="300.5" y2="247.5"/><line x1="301.5" y1="247.5" x2="301.5" y2="242.5"/><line x1="301.5" y1="242.5" x2="301.5" y2="247.5"/><line x1="302.5" y1="247.5" x2="302.5" y2="242.5"/><line x1="303.5" y1="242.5" x2="303.5" y2="247.5"/><line x1="305.5" y1="247.5" x2="305.5" y2="251.5"/><line x1="306.5" y1="251.5" x2="306.5" y2="247.5"/><line x1="307.5" y1="247.5" x2="307.5" y2="251.5"/><line x1="311.5" y1="251.5" x2="311.5" y2="255.5"/><line x1="311.5" y1="255.5" x2="311.5" y2="251.5"/><line x1="311.5" y1="251.5" x2="311.5" y2="255.5"/><line x1="312.5" y1="255.5" x2="312.5" y2="251.5"/><line x1="312.5" y1="251.5" x2="312.5" y2="255.5"/><line x1="313.5" y1="255.5" x2="313.5" y2="251.5"/><line x1="313.5" y1="251.5" x2="313.5" y2="255.5"/><line x1="314.5" y1="255.5" x2="314.5" y2="251.5"/><line x1="314.5" y1="251.5" x2="314.5" y2="255.5"/><line x1="315.5" y1="255.5" x2="315.5" y2="251.5"/><line x1="315.5" y1="251.5" x2="315.5" y2="255.5"/><line x1="316.5" y1="255.5" x2="316.5" y2="251.5"/><line x1="317.5" y1="251.5" x2="317.5" y2="255.5"/><line x1="317.5" y1="255.5" x2="317.5" y2="251.5"/><line x1="318.5" y1="251.5" x2="318.5" y2="255.5"/><line x1="318.5" y1="255.5" x2="318.5" y2="251.5"/><line x1="319.5" y1="251.5" x2="319.5" y2="255.5"/><line x1="320.5" y1="255.5" x2="320.5" y2="251.5"/><line x1="320.5" y1="251.5" x2="320.5" y2="255.5"/><line x1="321.5" y1="255.5" x2="321.5" y2="251.5"/><line x1="324.5" y1="251.5" x2="324.5" y2="247.5"/><line x1="324.5" y1="247.5" x2="324.5" y2="251.5"/><line x1="325.5" y1="251.5" x2="325.5" y2="247.5"/><line x1="326.5" y1="247.5" x2="326.5" y2="251.5"/><line x1="326.5" y1="251.5" x2="326.5" y2="247.5"/><line x1="329.5" y1="247.5" x2="329.5" y2="242.5"/><line x1="329.5" y1="242.5" x2="329.5" y2="247.5"/><line x1="329.5" y1="247.5" x2="329.5" y2="242.5"/><line x1="334.5" y1="242.5" x2="334.5" y2="238.5"/><line x1="335.5" y1="238.5" x2="335.5" y2="234.5"/><line x1="335.5" y1="234.5" x2="335.5" y2="238.5"/><line x1="336.5" y1="238.5" x2="336.5" y2="234.5"/><line x1="338.5" y1="234.5" x2="338.5" y2="230.5"/><line x1="339.5" y1="230.5" x2="339.5" y2="234.5"/><line x1="340.5" y1="234.5" x2="340.5" y2="230.5"/><line x1="341.5" y1="230.5" x2="341.5" y2="226.5"/><line x1="342.5" y1="226.5" x2="342.5" y2="230.5"/><line x1="342.5" y1="230.5" x2="342.5" y2="226.5"/><line x1="344.5" y1="226.5" x2="344.5" y2="221.5"/><line x1="346.5" y1="221.5" x2="346.5" y2="217.5"/><line x1="346.5" y1="217.5" x2="346.5" y2="221.5"/><line x1="347.5" y1="221.5" x2="347.5" y2="217.5"/><line x1="348.5" y1="217.5" x2="348.5" y2="213.5"/><line x1="348.5" y1="213.5" x2="348.5" y2="217.5"/><line x1="348.5" y1="217.5" x2="348.5" y2="213.5"/><line x1="350.5" y1="213.5" x2="350.5" y2="209.5"/><line x1="350.5" y1="209.5" x2="350.5" y2="213.5"/><line x1="351.5" y1="213.5" x2="351.5" y2="209.5"/><line x1="352.5" y1="209.5" x2="352.5" y2="205.5"/><line x1="353.5" y1="205.5" x2="353.5" y2="200.5"/><line x1="354.5" y1="200.5" x2="354.5" y2="205.5"/><line x1="354.5" y1="205.5" x2="354.5" y2="200.5"/><line x1="355.5" y1="200.5" x2="355.5" y2="196.5"/><line x1="356.5" y1="196.5" x2="356.5" y2="200.5"/><line x1="356.5" y1="200.5" x2="356.5" y2="196.5"/><line x1="357.5" y1="196.5" x2="357.5" y2="192.5"/><line x1="357.5" y1="192.5" x2="357.5" y2="196.5"/><line x1="358.5" y1="196.5" x2="358.5" y2="192.5"/><line x1="359.5" y1="192.5" x2="359.5" y2="188.5"/><line x1="361.5" y1="188.5" x2="361.5" y2="184.5"/><line x1="361.5" y1="184.5" x2="361.5" y2="188.5"/><line x1="362.5" y1="188.5" x2="362.5" y2="184.5"/><line x1="363.5" y1="184.5" x2="363.5" y2="179.5"/><line x1="364.5" y1="179.5" x2="364.5" y2="175.5"/><line x1="365.5" y1="175.5" x2="365.5" y2="171.5"/><line x1="367.5" y1="171.5" x2="367.5" y2="167.5"/><line x1="368.5" y1="167.5" x2="368.5" y2="163.5"/><line x1="369.5" y1="163.5" x2="369.5" y2="167.5"/><line x1="369.5" y1="167.5" x2="369.5" y2="163.5"/><line x1="371.5" y1="163.5" x2="371.5" y2="158.5"/><line x1="371.5" y1="158.5" x2="371.5" y2="154.5"/><line x1="371.5" y1="154.5" x2="371.5" y2="158.5"/><line x1="372.5" y1="158.5" x2="372.5" y2="154.5"/><line x1="374.5" y1="154.5" x2="374.5" y2="150.5"/><line x1="374.5" y1="150.5" x2="374.5" y2="146.5"/><line x1="375.5" y1="146.5" x2="375.5" y2="150.5"/><line x1="375.5" y1="150.5" x2="375.5" y2="146.5"/><line x1="377.5" y1="146.5" x2="377.5" y2="142.5"/><line x1="378.5" y1="142.5" x2="378.5" y2="137.5"/><line x1="380.5" y1="137.5" x2="380.5" y2="133.5"/><line x1="381.5" y1="133.5" x2="381.5" y2="129.5"/><line x1="383.5" y1="129.5" x2="383.5" y2="125.5"/><line x1="384.5" y1="125.5" x2="384.5" y2="121.5"/><line x1="386.5" y1="121.5" x2="386.5" y2="116.5"/><line x1="387.5" y1="116.5" x2="387.5" y2="112.5"/><line x1="388.5" y1="112.5" x2="388.5" y2="108.5"/><line x1="389.5" y1="108.5" x2="389.5" y2="104.5"/><line x1="389.5" y1="104.5" x2="389.5" y2="108.5"/><line x1="389.5" y1="108.5" x2="389.5" y2="104.5"/><line x1="391.5" y1="104.5" x2="391.5" y2="100.5"/><line x1="392.5" y1="100.5" x2="392.5" y2="95.5"/><line x1="393.5" y1="95.5" x2="393.5" y2="91.5"/><line x1="395.5" y1="91.5" x2="395.5" y2="87.5"/><line x1="396.5" y1="87.5" x2="396.5" y2="83.5"/><line x1="398.5" y1="83.5" x2="398.5" y2="79.5"/><line x1="398.5" y1="79.5" x2="398.5" y2="83.5"/><line x1="398.5" y1="83.5" x2="398.5" y2="74.5"/><line x1="399.5" y1="74.5" x2="399.5" y2="79.5"/><line x1="400.5" y1="79.5" x2="400.5" y2="74.5"/><line x1="401.5" y1="74.5" x2="401.5" y2="70.5"/><line x1="401.5" y1="70.5" x2="401.5" y2="74.5"/><line x1="401.5" y1="74.5" x2="401.5" y2="70.5"/><line x1="402.5" y1="70.5" x2="402.5" y2="66.5"/><line x1="403.5" y1="66.5" x2="403.5" y2="70.5"/><line x1="403.5" y1="70.5" x2="403.5" y2="66.5"/><line x1="405.5" y1="66.5" x2="405.5" y2="62.5"/><line x1="405.5" y1="62.5" x2="405.5" y2="66.5"/><line x1="405.5" y1="66.5" x2="405.5" y2="62.5"/><line x1="406.5" y1="62.5" x2="406.5" y2="58.5"/><line x1="406.5" y1="58.5" x2="406.5" y2="62.5"/><line x1="407.5" y1="62.5" x2="407.5" y2="58.5"/><line x1="407.5" y1="58.5" x2="407.5" y2="53.5"/><line x1="407.5" y1="53.5" x2="407.5" y2="58.5"/><line x1="408.5" y1="58.5" x2="408.5" y2="53.5"/><line x1="409.5" y1="53.5" x2="409.5" y2="49.5"/><line x1="411.5" y1="49.5" x2="411.5" y2="45.5"/><line x1="413.5" y1="45.5" x2="413.5" y2="41.5"/><line x1="415.5" y1="41.5" x2="415.5" y2="37.5"/><line x1="416.5" y1="37.5" x2="416.5" y2="32.5"/><line x1="416.5" y1="32.5" x2="416.5" y2="37.5"/><line x1="417.5" y1="37.5" x2="417.5" y2="32.5"/><line x1="419.5" y1="32.5" x2="419.5" y2="28.5"/><line x1="419.5" y1="28.5" x2="419.5" y2="32.5"/><line x1="420.5" y1="32.5" x2="420.5" y2="28.5"/></g>
<polyline points="47.25,243.60 47.62,245.00 48.00,246.33 48.38,247.56 48.75,248.70 49.12,249.74 49.50,250.67 49.88,251.52 50.25,252.34 50.62,253.08 51.00,253.67 51.38,254.06 51.75,254.38 52.12,254.66 52.50,254.91 52.88,255.12 53.25,255.28 53.62,255.37 54.00,255.40 54.38,255.41 54.75,255.42 55.12,255.43 55.50,255.43 55.88,255.44 56.25,255.45 56.62,255.45 57.00,255.46 57.38,255.46 57.75,255.47 58.12,255.47 58.50,255.48 58.88,255.48 59.25,255.48 59.62,255.49 60.00,255.49 60.38,255.49 60.75,255.49 61.12,255.49 61.50,255.50 61.88,255.50 62.25,255.50 62.62,255.50 63.00,255.50 63.38,255.50 63.75,255.50 64.12,255.50 64.50,255.50 64.88,255.50 65.25,255.50 65.62,255.50 66.00,255.49 66.38,255.49 66.75,255.49 67.12,255.48 67.50,255.48 67.88,255.47 68.25,255.47 68.62,255.46 69.00,255.46 69.38,255.45 69.75,255.44 70.12,255.43 70.50,255.42 70.88,255.41 71.25,255.40 71.62,255.39 72.00,255.38 72.38,255.37 72.75,255.36 73.12,255.34 73.50,255.33 73.88,255.31 74.25,255.30 74.62,255.26 75.00,255.18 75.38,255.07 75.75,254.94 76.12,254.77 76.50,254.59 76.88,254.38 77.25,254.15 77.62,253.91 78.00,253.66 78.38,253.40 78.75,253.13 79.12,252.87 79.50,252.60 79.88,252.31 80.25,251.99 80.62,251.63 81.00,251.24 81.38,250.82 81.75,250.39 82.12,249.93 82.50,249.46 82.88,248.99 83.25,248.51 83.62,248.02 84.00,247.54 84.38,247.06 84.75,246.56 85.12,246.05 85.50,245.53 85.88,245.00 86.25,244.45 86.62,243.89 87.00,243.32 87.38,242.73 87.75,242.13 88.12,241.50 88.50,240.86 88.88,240.20 89.25,239.52 89.62,238.80 90.00,238.04 90.38,237.25 90.75,236.42 91.12,235.56 91.50,234.69 91.88,233.79 92.25,232.88 92.62,231.96 93.00,231.03 93.38,230.10 93.75,229.17 94.12,228.25 94.50,227.34 94.88,226.45 95.25,225.57 95.62,224.72 96.00,223.89 96.38,223.07 96.75,222.27 97.12,221.47 97.50,220.68 97.88,219.90 98.25,219.12 98.62,218.33 99.00,217.55 99.38,216.75 99.75,215.95 100.12,215.13 100.50,214.30 100.88,213.45 101.25,212.58 101.62,211.68 102.00,210.76 102.38,209.81 102.75,208.83 103.12,207.82 103.50,206.78 103.88,205.71 104.25,204.63 104.62,203.52 105.00,202.39 105.38,201.24 105.75,200.08 106.12,198.90 106.50,197.71 106.88,196.50 107.25,195.29 107.62,194.07 108.00,192.84 108.38,191.61 108.75,190.37 109.12,189.14 109.50,187.90 109.88,186.67 110.25,185.44 110.62,184.22 111.00,183.00 111.38,181.78 111.75,180.55 112.12,179.30 112.50,178.04 112.88,176.77 113.25,175.49 113.62,174.20 114.00,172.90 114.38,171.61 114.75,170.30 115.12,169.00 115.50,167.69 115.88,166.39 116.25,165.09 116.62,163.79 117.00,162.50 117.38,161.22 117.75,159.94 118.12,158.68 118.50,157.42 118.88,156.18 119.25,154.96 119.62,153.75 120.00,152.56 120.38,151.39 120.75,150.24 121.12,149.12 121.50,148.04 121.88,146.97 122.25,145.91 122.62,144.86 123.00,143.80 123.38,142.73 123.75,141.65 124.12,140.53 124.50,139.39 124.88,138.23 125.25,137.05 125.62,135.87 126.00,134.68 126.38,133.48 126.75,132.26 127.12,131.04 127.50,129.82 127.88,128.58 128.25,127.34 128.62,126.09 129.00,124.83 129.38,123.57 129.75,122.31 130.12,121.04 130.50,119.77 130.88,118.49 131.25,117.21 131.62,115.93 132.00,114.65 132.38,113.36 132.75,112.08 133.12,110.79 133.50,109.51 133.88,108.22 134.25,106.94 134.62,105.66 135.00,104.39 135.38,103.11 135.75,101.84 136.12,100.58 136.50,99.30 136.88,98.00 137.25,96.69 137.62,95.36 138.00,94.03 138.38,92.69 138.75,91.34 139.12,89.99 139.50,88.64 139.88,87.30 140.25,85.96 140.62,84.62 141.00,83.30 141.38,81.99 141.75,80.69 142.12,79.41 142.50,78.15 142.88,76.91 143.25,75.70 143.62,74.51 144.00,73.36 144.38,72.23 144.75,71.14 145.12,70.09 145.50,69.06 145.88,68.05 146.25,67.07 146.62,66.11 147.00,65.17 147.38,64.24 147.75,63.33 148.12,62.43 148.50,61.54 148.88,60.65 149.25,59.77 149.62,58.88 150.00,58.00 150.38,57.12 150.75,56.26 151.12,55.41 151.50,54.56 151.88,53.73 152.25,52.90 152.62,52.08 153.00,51.26 153.38,50.44 153.75,49.63 154.12,48.81 154.50,47.99 154.88,47.17 155.25,46.34 155.62,45.50 156.00,44.65 156.38,43.80 156.75,42.92 157.12,42.02 157.50,41.10 157.88,40.17 158.25,39.24 158.62,38.30 159.00,37.37 159.38,36.45 159.75,35.55 160.12,34.67 160.50,33.81 160.88,32.98 161.25,32.19 161.62,31.44 162.00,30.72 162.38,30.03 162.75,29.34 163.12,28.67 163.50,28.01 163.88,27.36 164.25,26.72 164.62,26.09 165.00,25.47 165.38,24.87 165.75,24.28 166.12,23.70 166.50,23.13 166.88,22.57 167.25,22.03 167.62,21.49 168.00,20.97 168.38,20.46 168.75,19.97 169.12,19.48 169.50,19.01 169.88,18.55 170.25,18.10 170.62,17.67 171.00,17.25 171.38,16.84 171.75,16.45 172.12,16.06 172.50,15.68 172.88,15.31 173.25,14.95 173.62,14.60 174.00,14.25 174.38,13.91 174.75,13.57 175.12,13.23 175.50,12.90 175.88,12.56 176.25,12.21 176.62,11.86 177.00,11.50 177.38,11.14 177.75,10.79 178.12,10.45 178.50,10.12 178.88,9.81 179.25,9.52 179.62,9.25 180.00,9.02 180.38,8.82 180.75,8.65 181.12,8.52 181.50,8.40 181.88,8.28 182.25,8.16 182.62,8.05 183.00,7.95 183.38,7.85 183.75,7.77 184.12,7.69 184.50,7.62 184.88,7.57 185.25,7.53 185.62,7.51 186.00,7.50 186.38,7.50 186.75,7.50 187.12,7.50 187.50,7.50 187.88,7.50 188.25,7.50 188.62,7.50 189.00,7.50 189.38,7.50 189.75,7.50 190.12,7.50 190.50,7.50 190.88,7.50 191.25,7.50 191.62,7.52 192.00,7.55 192.38,7.60 192.75,7.65 193.12,7.72 193.50,7.80 193.88,7.88 194.25,7.98 194.62,8.07 195.00,8.18 195.38,8.28 195.75,8.39 196.12,8.50 196.50,8.64 196.88,8.80 197.25,8.99 197.62,9.20 198.00,9.42 198.38,9.65 198.75,9.88 199.12,10.11 199.50,10.36 199.88,10.61 200.25,10.88 200.62,11.16 201.00,11.45 201.38,11.75 201.75,12.06 202.12,12.37 202.50,12.69 202.88,13.03 203.25,13.38 203.62,13.74 204.00,14.11 204.38,14.49 204.75,14.87 205.12,15.27 205.50,15.67 205.88,16.09 206.25,16.51 206.62,16.95 207.00,17.40 207.38,17.85 207.75,18.32 208.12,18.79 208.50,19.27 208.88,19.76 209.25,20.26 209.62,20.78 210.00,21.30 210.38,21.83 210.75,22.37 211.12,22.92 211.50,23.47 211.88,24.04 212.25,24.61 212.62,25.20 213.00,25.80 213.38,26.40 213.75,27.01 214.12,27.63 214.50,28.25 214.88,28.89 215.25,29.54 215.62,30.20 216.00,30.86 216.38,31.53 216.75,32.21 217.12,32.90 217.50,33.59 217.88,34.30 218.25,35.01 218.62,35.73 219.00,36.47 219.38,37.20 219.75,37.95 220.12,38.70 220.50,39.46 220.88,40.23 221.25,41.00 221.62,41.79 222.00,42.58 222.38,43.38 222.75,44.19 223.12,45.00 223.50,45.82 223.88,46.65 224.25,47.48 224.62,48.33 225.00,49.18 225.38,50.03 225.75,50.90 226.12,51.77 226.50,52.64 226.88,53.52 227.25,54.41 227.62,55.31 228.00,56.22 228.38,57.12 228.75,58.04 229.12,58.96 229.50,59.89 229.88,60.82 230.25,61.76 230.62,62.71 231.00,63.66 231.38,64.62 231.75,65.58 232.12,66.54 232.50,67.52 232.88,68.50 233.25,69.48 233.62,70.47 234.00,71.47 234.38,72.47 234.75,73.47 235.12,74.48 235.50,75.49 235.88,76.51 236.25,77.54 236.62,78.56 237.00,79.60 237.38,80.63 237.75,81.67 238.12,82.72 238.50,83.77 238.88,84.82 239.25,85.88 239.62,86.94 240.00,88.01 240.38,89.08 240.75,90.15 241.12,91.22 241.50,92.30 241.88,93.38 242.25,94.47 242.62,95.56 243.00,96.65 243.38,97.74 243.75,98.84 244.12,99.94 244.50,101.04 244.88,102.15 245.25,103.26 245.62,104.37 246.00,105.48 246.38,106.59 246.75,107.71 247.12,108.83 247.50,109.95 247.88,111.07 248.25,112.20 248.62,113.32 249.00,114.45 249.38,115.58 249.75,116.71 250.12,117.84 250.50,118.97 250.88,120.10 251.25,121.24 251.62,122.37 252.00,123.51 252.38,124.65 252.75,125.79 253.12,126.92 253.50,128.06 253.88,129.20 254.25,130.34 254.62,131.48 255.00,132.62 255.38,133.75 255.75,134.89 256.12,136.03 256.50,137.17 256.88,138.30 257.25,139.44 257.62,140.58 258.00,141.71 258.38,142.85 258.75,143.98 259.12,145.11 259.50,146.24 259.88,147.37 260.25,148.50 260.62,149.63 261.00,150.75 261.38,151.88 261.75,153.00 262.12,154.12 262.50,155.24 262.88,156.35 263.25,157.47 263.62,158.58 264.00,159.69 264.38,160.80 264.75,161.90 265.12,163.01 265.50,164.10 265.88,165.20 266.25,166.30 266.62,167.39 267.00,168.48 267.38,169.56 267.75,170.64 268.12,171.72 268.50,172.80 268.88,173.87 269.25,174.94 269.62,176.00 270.00,177.06 270.38,178.12 270.75,179.17 271.12,180.22 271.50,181.26 271.88,182.30 272.25,183.34 272.62,184.37 273.00,185.40 273.38,186.43 273.75,187.44 274.12,188.46 274.50,189.46 274.88,190.47 275.25,191.47 275.62,192.46 276.00,193.45 276.38,194.43 276.75,195.41 277.12,196.38 277.50,197.35 277.88,198.31 278.25,199.27 278.62,200.22 279.00,201.17 279.38,202.10 279.75,203.04 280.12,203.96 280.50,204.88 280.88,205.80 281.25,206.71 281.62,207.61 282.00,208.50 282.38,209.39 282.75,210.28 283.12,211.15 283.50,212.02 283.88,212.88 284.25,213.74 284.62,214.59 285.00,215.43 285.38,216.26 285.75,217.09 286.12,217.91 286.50,218.72 286.88,219.53 287.25,220.32 287.62,221.12 288.00,221.90 288.38,222.68 288.75,223.44 289.12,224.20 289.50,224.95 289.88,225.70 290.25,226.43 290.62,227.16 291.00,227.88 291.38,228.60 291.75,229.30 292.12,229.99 292.50,230.68 292.88,231.36 293.25,232.03 293.62,232.69 294.00,233.35 294.38,233.99 294.75,234.63 295.12,235.25 295.50,235.87 295.88,236.48 296.25,237.09 296.62,237.68 297.00,238.26 297.38,238.84 297.75,239.40 298.12,239.96 298.50,240.50 298.88,241.04 299.25,241.57 299.62,242.09 300.00,242.60 300.38,243.10 300.75,243.59 301.12,244.07 301.50,244.55 301.88,245.01 302.25,245.46 302.62,245.91 303.00,246.34 303.38,246.77 303.75,247.18 304.12,247.58 304.50,247.98 304.88,248.36 305.25,248.74 305.62,249.11 306.00,249.47 306.38,249.81 306.75,250.15 307.12,250.47 307.50,250.78 307.88,251.09 308.25,251.39 308.62,251.68 309.00,251.95 309.38,252.22 309.75,252.47 310.12,252.71 310.50,252.95 310.88,253.17 311.25,253.39 311.62,253.60 312.00,253.79 312.38,253.98 312.75,254.15 313.12,254.30 313.50,254.45 313.88,254.60 314.25,254.74 314.62,254.87 315.00,254.98 315.38,255.08 315.75,255.17 316.12,255.23 316.50,255.28 316.88,255.33 317.25,255.38 317.62,255.42 318.00,255.46 318.38,255.48 318.75,255.50 319.12,255.50 319.50,255.48 319.88,255.45 320.25,255.41 320.62,255.36 321.00,255.30 321.38,255.23 321.75,255.17 322.12,255.10 322.50,255.01 322.88,254.90 323.25,254.78 323.62,254.64 324.00,254.50 324.38,254.34 324.75,254.18 325.12,254.02 325.50,253.84 325.88,253.65 326.25,253.45 326.62,253.23 327.00,253.01 327.38,252.77 327.75,252.53 328.12,252.29 328.50,252.03 328.88,251.75 329.25,251.47 329.62,251.17 330.00,250.87 330.38,250.55 330.75,250.23 331.12,249.90 331.50,249.56 331.88,249.21 332.25,248.84 332.62,248.47 333.00,248.08 333.38,247.69 333.75,247.29 334.12,246.88 334.50,246.46 334.88,246.03 335.25,245.59 335.62,245.13 336.00,244.67 336.38,244.20 336.75,243.72 337.12,243.23 337.50,242.74 337.88,242.23 338.25,241.71 338.62,241.18 339.00,240.65 339.38,240.10 339.75,239.55 340.12,238.99 340.50,238.42 340.88,237.84 341.25,237.25 341.62,236.65 342.00,236.04 342.38,235.42 342.75,234.79 343.12,234.16 343.50,233.52 343.88,232.87 344.25,232.21 344.62,231.54 345.00,230.86 345.38,230.18 345.75,229.48 346.12,228.78 346.50,228.07 346.88,227.36 347.25,226.63 347.62,225.89 348.00,225.15 348.38,224.40 348.75,223.64 349.12,222.88 349.50,222.11 349.88,221.33 350.25,220.54 350.62,219.74 351.00,218.94 351.38,218.12 351.75,217.31 352.12,216.48 352.50,215.65 352.88,214.81 353.25,213.96 353.62,213.11 354.00,212.25 354.38,211.38 354.75,210.51 355.12,209.63 355.50,208.74 355.88,207.85 356.25,206.95 356.62,206.04 357.00,205.13 357.38,204.21 357.75,203.28 358.12,202.35 358.50,201.42 358.88,200.47 359.25,199.52 359.62,198.57 360.00,197.61 360.38,196.64 360.75,195.67 361.12,194.70 361.50,193.71 361.88,192.73 362.25,191.73 362.62,190.74 363.00,189.73 363.38,188.72 363.75,187.71 364.12,186.70 364.50,185.68 364.88,184.65 365.25,183.62 365.62,182.58 366.00,181.54 366.38,180.50 366.75,179.45 367.12,178.40 367.50,177.34 367.88,176.29 368.25,175.22 368.62,174.15 369.00,173.08 369.38,172.01 369.75,170.93 370.12,169.85 370.50,168.77 370.88,167.68 371.25,166.59 371.62,165.49 372.00,164.40 372.38,163.30 372.75,162.20 373.12,161.09 373.50,159.99 373.88,158.88 374.25,157.77 374.62,156.65 375.00,155.54 375.38,154.42 375.75,153.30 376.12,152.18 376.50,151.05 376.88,149.93 377.25,148.80 377.62,147.67 378.00,146.54 378.38,145.41 378.75,144.28 379.12,143.15 379.50,142.02 379.88,140.88 380.25,139.74 380.62,138.61 381.00,137.47 381.38,136.33 381.75,135.19 382.12,134.06 382.50,132.92 382.88,131.78 383.25,130.64 383.62,129.50 384.00,128.36 384.38,127.22 384.75,126.09 385.12,124.95 385.50,123.81 385.88,122.68 386.25,121.54 386.62,120.41 387.00,119.27 387.38,118.14 387.75,117.01 388.12,115.88 388.50,114.75 388.88,113.62 389.25,112.50 389.62,111.37 390.00,110.25 390.38,109.13 390.75,108.01 391.12,106.89 391.50,105.78 391.88,104.66 392.25,103.55 392.62,102.44 393.00,101.34 393.38,100.23 393.75,99.13 394.12,98.04 394.50,96.94 394.88,95.85 395.25,94.76 395.62,93.67 396.00,92.59 396.38,91.51 396.75,90.43 397.12,89.36 397.50,88.29 397.88,87.23 398.25,86.16 398.62,85.10 399.00,84.05 399.38,83.00 399.75,81.95 400.12,80.91 400.50,79.87 400.88,78.84 401.25,77.81 401.62,76.78 402.00,75.76 402.38,74.75 402.75,73.74 403.12,72.73 403.50,71.73 403.88,70.74 404.25,69.75 404.62,68.76 405.00,67.78 405.38,66.80 405.75,65.83 406.12,64.87 406.50,63.91 406.88,62.96 407.25,62.01 407.62,61.07 408.00,60.14 408.38,59.21 408.75,58.28 409.12,57.37 409.50,56.46 409.88,55.55 410.25,54.65 410.62,53.76 411.00,52.88 411.38,52.00 411.75,51.13 412.12,50.26 412.50,49.41 412.88,48.55 413.25,47.71 413.62,46.87 414.00,46.04 414.38,45.22 414.75,44.40 415.12,43.59 415.50,42.79 415.88,42.00 416.25,41.21 416.62,40.44 417.00,39.66 417.38,38.90 417.75,38.15 418.12,37.40 418.50,36.66 418.88,35.93 419.25,35.21 419.62,34.49 420.00,33.78 420.38,33.08 420.75,32.39 421.12,31.71 421.50,31.04 421.88,30.37 422.25,29.72" fill="none" stroke="#ff0000" stroke-width="1" stroke-opacity="0.22" stroke-linejoin="round"/></g>
<rect x="47.5" y="5.5" width="375" height="295" fill="none" stroke="#9c9c9c" stroke-width="1"/><rect x="47" y="5" width="1" height="1" fill="#666"/><rect x="422" y="5" width="1.5" height="1" fill="#333"/><rect x="422" y="300" width="1" height="1" fill="#666"/><line x1="47.5" y1="300" x2="47.5" y2="297" stroke="#c4c4c4" stroke-width="1"/><rect x="48.0" y="296" width="1" height="1" fill="#b4b4b4"/><line x1="47.5" y1="6" x2="47.5" y2="9" stroke="#c4c4c4" stroke-width="1"/><rect x="48.0" y="9" width="1" height="1" fill="#a8a8a8"/><line x1="84.5" y1="300" x2="84.5" y2="297" stroke="#c4c4c4" stroke-width="1"/><rect x="85.0" y="296" width="1" height="1" fill="#b4b4b4"/><line x1="84.5" y1="6" x2="84.5" y2="9" stroke="#c4c4c4" stroke-width="1"/><rect x="85.0" y="9" width="1" height="1" fill="#a8a8a8"/><line x1="122.5" y1="300" x2="122.5" y2="297" stroke="#c4c4c4" stroke-width="1"/><rect x="123.0" y="296" width="1" height="1" fill="#b4b4b4"/><line x1="122.5" y1="6" x2="122.5" y2="9" stroke="#c4c4c4" stroke-width="1"/><rect x="123.0" y="9" width="1" height="1" fill="#a8a8a8"/><line x1="160.5" y1="300" x2="160.5" y2="297" stroke="#c4c4c4" stroke-width="1"/><rect x="161.0" y="296" width="1" height="1" fill="#b4b4b4"/><line x1="160.5" y1="6" x2="160.5" y2="9" stroke="#c4c4c4" stroke-width="1"/><rect x="161.0" y="9" width="1" height="1" fill="#a8a8a8"/><line x1="197.5" y1="300" x2="197.5" y2="297" stroke="#c4c4c4" stroke-width="1"/><rect x="198.0" y="296" width="1" height="1" fill="#b4b4b4"/><line x1="197.5" y1="6" x2="197.5" y2="9" stroke="#c4c4c4" stroke-width="1"/><rect x="198.0" y="9" width="1" height="1" fill="#a8a8a8"/><line x1="234.5" y1="300" x2="234.5" y2="297" stroke="#c4c4c4" stroke-width="1"/><rect x="235.0" y="296" width="1" height="1" fill="#b4b4b4"/><line x1="234.5" y1="6" x2="234.5" y2="9" stroke="#c4c4c4" stroke-width="1"/><rect x="235.0" y="9" width="1" height="1" fill="#a8a8a8"/><line x1="272.5" y1="300" x2="272.5" y2="297" stroke="#c4c4c4" stroke-width="1"/><rect x="273.0" y="296" width="1" height="1" fill="#b4b4b4"/><line x1="272.5" y1="6" x2="272.5" y2="9" stroke="#c4c4c4" stroke-width="1"/><rect x="273.0" y="9" width="1" height="1" fill="#a8a8a8"/><line x1="310.5" y1="300" x2="310.5" y2="297" stroke="#c4c4c4" stroke-width="1"/><rect x="311.0" y="296" width="1" height="1" fill="#b4b4b4"/><line x1="310.5" y1="6" x2="310.5" y2="9" stroke="#c4c4c4" stroke-width="1"/><rect x="311.0" y="9" width="1" height="1" fill="#a8a8a8"/><line x1="347.5" y1="300" x2="347.5" y2="297" stroke="#c4c4c4" stroke-width="1"/><rect x="348.0" y="296" width="1" height="1" fill="#b4b4b4"/><line x1="347.5" y1="6" x2="347.5" y2="9" stroke="#c4c4c4" stroke-width="1"/><rect x="348.0" y="9" width="1" height="1" fill="#a8a8a8"/><line x1="384.5" y1="300" x2="384.5" y2="297" stroke="#c4c4c4" stroke-width="1"/><rect x="385.0" y="296" width="1" height="1" fill="#b4b4b4"/><line x1="384.5" y1="6" x2="384.5" y2="9" stroke="#c4c4c4" stroke-width="1"/><rect x="385.0" y="9" width="1" height="1" fill="#a8a8a8"/><line x1="422.5" y1="300" x2="422.5" y2="297" stroke="#c4c4c4" stroke-width="1"/><rect x="423.0" y="296" width="1" height="1" fill="#b4b4b4"/><line x1="422.5" y1="6" x2="422.5" y2="9" stroke="#c4c4c4" stroke-width="1"/><rect x="423.0" y="9" width="1" height="1" fill="#a8a8a8"/><line x1="48" y1="5.5" x2="51" y2="5.5" stroke="#c4c4c4" stroke-width="1"/><rect x="51" y="6.0" width="1" height="1" fill="#a8a8a8"/><line x1="422" y1="5.5" x2="419" y2="5.5" stroke="#c4c4c4" stroke-width="1"/><rect x="418" y="5.0" width="1" height="1" fill="#a8a8a8"/><line x1="48" y1="47.5" x2="51" y2="47.5" stroke="#c4c4c4" stroke-width="1"/><rect x="51" y="48.0" width="1" height="1" fill="#a8a8a8"/><line x1="422" y1="47.5" x2="419" y2="47.5" stroke="#c4c4c4" stroke-width="1"/><rect x="418" y="47.0" width="1" height="1" fill="#a8a8a8"/><line x1="48" y1="89.5" x2="51" y2="89.5" stroke="#c4c4c4" stroke-width="1"/><rect x="51" y="90.0" width="1" height="1" fill="#a8a8a8"/><line x1="422" y1="89.5" x2="419" y2="89.5" stroke="#c4c4c4" stroke-width="1"/><rect x="418" y="89.0" width="1" height="1" fill="#a8a8a8"/><line x1="48" y1="131.5" x2="51" y2="131.5" stroke="#c4c4c4" stroke-width="1"/><rect x="51" y="132.0" width="1" height="1" fill="#a8a8a8"/><line x1="422" y1="131.5" x2="419" y2="131.5" stroke="#c4c4c4" stroke-width="1"/><rect x="418" y="131.0" width="1" height="1" fill="#a8a8a8"/><line x1="48" y1="173.5" x2="51" y2="173.5" stroke="#c4c4c4" stroke-width="1"/><rect x="51" y="174.0" width="1" height="1" fill="#a8a8a8"/><line x1="422" y1="173.5" x2="419" y2="173.5" stroke="#c4c4c4" stroke-width="1"/><rect x="418" y="173.0" width="1" height="1" fill="#a8a8a8"/><line x1="48" y1="216.5" x2="51" y2="216.5" stroke="#c4c4c4" stroke-width="1"/><rect x="51" y="217.0" width="1" height="1" fill="#a8a8a8"/><line x1="422" y1="216.5" x2="419" y2="216.5" stroke="#c4c4c4" stroke-width="1"/><rect x="418" y="216.0" width="1" height="1" fill="#a8a8a8"/><line x1="48" y1="258.5" x2="51" y2="258.5" stroke="#c4c4c4" stroke-width="1"/><rect x="51" y="259.0" width="1" height="1" fill="#a8a8a8"/><line x1="422" y1="258.5" x2="419" y2="258.5" stroke="#c4c4c4" stroke-width="1"/><rect x="418" y="258.0" width="1" height="1" fill="#a8a8a8"/><line x1="48" y1="300.5" x2="51" y2="300.5" stroke="#c4c4c4" stroke-width="1"/><rect x="51" y="301.0" width="1" height="1" fill="#a8a8a8"/><line x1="422" y1="300.5" x2="419" y2="300.5" stroke="#c4c4c4" stroke-width="1"/><rect x="418" y="300.0" width="1" height="1" fill="#a8a8a8"/>
<rect x="265.5" y="11.5" width="152" height="53" fill="#fff" stroke="none"/><path d="M265.5 11.5H417.5V64.5" fill="none" stroke="#ababab" stroke-width="1"/><path d="M265.5 11.5V64.5H417.5" fill="none" stroke="#8a8a8a" stroke-width="1"/><rect x="265" y="11" width="2" height="1.5" fill="#333"/><rect x="417" y="11" width="1.5" height="1.5" fill="#444"/><rect x="417" y="64" width="2" height="1" fill="#444"/><line x1="271.5" y1="20.5" x2="307" y2="20.5" stroke="#d4d4ff" stroke-width="1"/><line x1="271.5" y1="37.5" x2="307" y2="37.5" stroke="#d2e2d2" stroke-width="1"/><line x1="271.5" y1="53.5" x2="307" y2="53.5" stroke="#ffd2d2" stroke-width="1"/><text x="310.3" y="24.5">angle sensor data</text><text x="310.3" y="41">LDV data</text><text x="310.3" y="57.5">UKF estimation data</text>
<text x="44.2" y="8.9" text-anchor="end">0.15</text><text x="44.2" y="51.0" text-anchor="end">0.1</text><text x="44.2" y="93.2" text-anchor="end">0.05</text><text x="44.2" y="135.3" text-anchor="end">0</text><text x="44.2" y="177.5" text-anchor="end">-0.05</text><text x="44.2" y="219.6" text-anchor="end">-0.1</text><text x="44.2" y="261.8" text-anchor="end">-0.15</text><text x="44.2" y="303.9" text-anchor="end">-0.2</text><text x="47.6" y="313.5" text-anchor="middle">0</text><text x="85.2" y="313.5" text-anchor="middle">100</text><text x="122.7" y="313.5" text-anchor="middle">200</text><text x="160.2" y="313.5" text-anchor="middle">300</text><text x="197.7" y="313.5" text-anchor="middle">400</text><text x="235.2" y="313.5" text-anchor="middle">500</text><text x="272.6" y="313.5" text-anchor="middle">600</text><text x="310.1" y="313.5" text-anchor="middle">700</text><text x="347.6" y="313.5" text-anchor="middle">800</text><text x="385.1" y="313.5" text-anchor="middle">900</text><text x="422.6" y="313.5" text-anchor="middle">1000</text><text x="195.3" y="328">time</text><text x="223.4" y="328">(</text><text x="230.6" y="328">0.1us</text><text x="258.3" y="328">)</text><g transform="translate(10.2,196.8) rotate(-90)"><text x="-1.3" y="0">angle</text><text x="28.5" y="0">(</text><text x="36" y="0">degree</text><text x="71.5" y="0">)</text></g>
</svg>
</body></html>
